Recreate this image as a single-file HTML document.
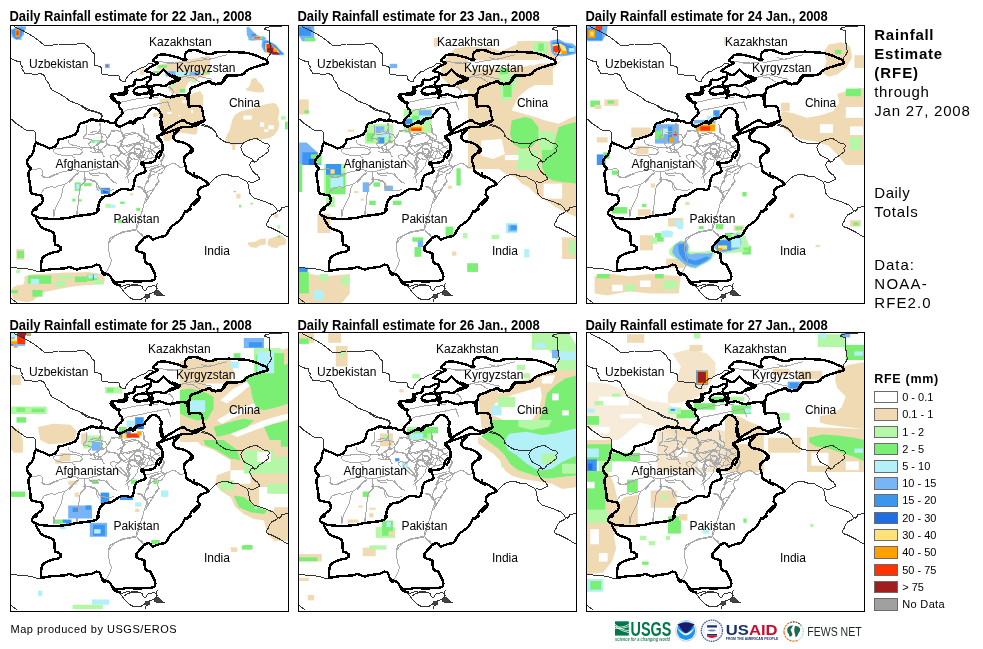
<!DOCTYPE html><html><head><meta charset="utf-8"><style>
html,body{margin:0;padding:0;background:#fff;}
body{width:983px;height:649px;overflow:hidden;position:relative;font-family:"Liberation Sans",Arial,sans-serif;}
.t{position:absolute;white-space:nowrap;color:#000;}
svg text{font-family:"Liberation Sans",Arial,sans-serif;}
</style></head><body>
<svg width="983" height="649" viewBox="0 0 983 649" style="position:absolute;left:0;top:0">
<defs>
<g id="map">
<path d="M133,184 L131.5,188.4 L128.6,194.2 L127.1,198.6 L126.4,204.5 L128.6,207.4 L131.5,210.3 L134.4,213.3 M126.4,205.2 L121.3,206 L115.4,206.7 L109.6,208.9 L103.7,211.1 L100.1,213.3 L98.6,217.7 L98.6,225 L100.1,232.3 L101.5,235.2 L100.1,239.6 L97.9,244 L95.7,248.4 M43.9,184 L43.9,191.3 M67.3,184 L66.6,189.9 M183.1,52.9 L186.8,55.3 L189.6,57.1 M43.2,125.2 L45.9,123.6 L51.3,123.1 L56.7,122.7 L61,122.5 L65.3,122.7 L69.6,123.6 L71.8,125.2 L72.3,127.4 L70.7,129 L66.4,129.5 L62.1,130.1 L56.7,130.6 L51.3,130.1 L47,129 L44.3,127.4 L43.2,125.2 M58.3,115 L58.8,117.7 L61,119.8 L65.3,120.4 L68.5,121.4 L71.8,123.1 L76.1,122.5 L79.3,122 L83.6,122.5 L86.9,124.7 L90,124.7 M76.1,99.9 L76.6,104.2 L76.1,109.6 L73.9,111.7 L73.9,113.9 L78.2,113.9 L81.5,115 L80.4,117.1 L78.2,119.3 L80.4,121.4 L83.6,123.6 L85.8,126.8 L89,127.9 M78.2,109.6 L82.6,109.6 L86.9,108.5 L90,109 M20,144.1 L26.5,144.1 L30.8,143.5 L32.9,146.2 L31.9,150.6 L36.2,152.7 L40.5,151.6 L43.7,149.5 L48,148.4 L52.4,146.8 L56.7,146.2 L59.9,144.6 L63.1,144.1 L66.4,145.2 L69.6,146.2 L73.9,146.8 L78.2,146.2 L81.5,145.2 L86.9,144.1 L90,143.5 M67.5,145.2 L68.5,148.4 L65.3,150.6 L63.1,152.7 L61,156 L58.8,158 M73.9,146.8 L75,150.6 L73.9,154.9 L74.5,158 M79.3,146.8 L80.4,149.5 L84.7,150.6 L89,150 M62.1,130.1 L63.1,132.2 L65.3,133.3 M90.8,97.7 L90.8,102 L89.7,105.3 L90.8,108.5 L91.9,112.8 L90.8,116 L88.6,118.2 L85.4,120.4 L83.2,122.5 L80,123.6 M90.8,108.5 L95.1,109.6 L97.3,112.8 L96.2,116 L97.3,119.3 L94,122.5 L90.8,124.7 L88.6,125.8 L86.5,127.9 M101.6,106.3 L107,105.8 L111.3,106.9 L112.4,109.6 L113.4,112.8 L112.4,116 L111.3,119.3 L112.4,122.5 L114.5,124.7 L116.7,126.8 L118.8,129 L121,127.9 L124.2,129 L127.5,131.1 L129.6,133.3 L130.7,136.5 M112.4,109.6 L116.7,108.5 L121,108 L124.2,107.4 L127.5,108.5 L130.7,110.7 L132.9,113.9 L136.1,116 L139.3,117.1 L142.6,118.2 L144.7,120.4 L146.9,122.5 L150,123.6 M101.6,106.3 L99.4,109.6 L97.3,112.8 M97.3,119.3 L101.6,120.4 L105.9,121.4 L109.1,123.6 L111.3,126.8 L110.2,130.1 L107,132.2 L104.8,134.4 M111.3,119.3 L114.5,120.4 L117.8,121.4 L122.1,120.4 L125.3,119.3 L129.6,118.2 L132.9,118.2 M123.1,122.5 L126.4,123.6 L130.7,124.7 L131.8,127.9 L129.6,130.1 L126.4,130.1 L124.2,129 M132.9,98.8 L133.4,103.1 L133.9,107.4 L137.2,109.6 L138.8,112.8 L137.2,117.1 M118.8,129 L117.8,133.3 L116.7,136.5 L117.8,139.8 L118.8,143 L117.8,146.2 L116.7,149.5 L117.8,152.7 L118.8,158 M104.8,134.4 L108,137.6 L110.2,139.8 L112.4,141.9 L115.6,143 L118.8,143 M80,148.4 L84.3,148.4 L88.6,147.9 L92.9,148.4 L96.2,149.5 L98.3,152.7 L101.6,154.9 L103.7,158 M127.5,131.1 L131.8,132.2 L136.1,133.3 L140.4,133.3 L144.7,132.2 M140.4,120.4 L140.4,123.6 L142.6,125.8 L144.7,127.9 M136.1,143 L140.4,141.9 L144.7,140.9 L149,139.8 M30.8,168.5 L34,164.2 L37.3,162.6 L41.6,161.5 L44.8,162.6 L48,160.9 L52.4,159.9 L55.6,158.8 L58.8,156.6 L61,154.5 L63.1,152.3 L65.3,150.2 L67.5,148 M54.5,159.9 L52.4,164.2 L51.8,169.6 L50.2,173.9 L48,178.2 L45.9,182.5 L44.8,185.8 L44.3,189 L43.7,192.2 M73.9,148 L75,152.3 L75,156.6 L72.9,158.8 L70.7,160.9 L69.6,164.2 L69.1,169.6 L68.5,175 L68,180.4 L67.5,185.8 L66.9,190.6 M31.9,150.2 L34,152.3 L37.3,152.9 L41.6,151.8 L44.8,150.2 L48,149.1 M76.1,154.5 L80.4,154.5 L84.7,155.6 L86.9,158.8 L86.9,163.1 L89,166.3 M127.5,162 L130.7,162 L133.9,165.3 L136.1,168.5 L136.6,171.7 L135,176 L133.4,180.4 L132.9,183.6 L131.8,186.8 L130.2,191.1 L128.5,198.7 L127.5,201.9 L126.4,204.1 L128,206.8 L130.7,208.4 L132.9,210.6 L133.9,212.7 M126.4,204.1 L121,205.2 L115.6,206.2 L111.3,207.3 L107,209.5 L102.7,212.7 L100.5,216 L99.4,218 M136.1,168.5 L138.2,166.3 L141.5,165.3 L144.7,163.1 L145.8,159.9 L148,157.7 L150,156.6 M133.9,165.3 L135,160.9 L136.1,158.8 L138.2,156.6 L139.3,152.3 L141.5,150.2 L144.7,149.1 M80,155.6 L84.3,156.6 L87.6,158.8 L88.6,162 L90.8,164.2 L96.2,165.3 L100.5,165.8 L103.7,164.2 M96.2,148 L98.3,151.2 L100.5,154.5 L103.7,156.6 L107,158.8 M154,128.5 L152.9,132.8 L150.7,136 L151.8,140.4 L148.6,142.5 L145.3,142.5 L142.1,143.6 L139.9,145.8 L141,149 L138.9,152.2 L137.8,155.5 L135.6,158.7 L134.6,163 L135.6,167.3 L137.8,170.6 L136.7,174.9 L135.6,178 M151.8,140.4 L155,141.4 L158.3,140.4 L161.5,138.7 L164.8,138.7 L168,140.4 L170.1,142.5 L172.3,142.5 L174.5,140.4 M155,141.4 L154,144.7 L151.8,147.9 L148.6,149 L147.5,152.2 L148.6,155.5 L147.5,158.7 L145.3,161.9 L143.2,165.2 L141,168.4 L138.9,171.6 L137.8,174.9 M127,161.9 L130.2,161.4 L132.4,163 L133.5,166.2 L135.6,168.4 M127,111.2 L130.2,110.2 L133.5,112.3 L136.7,114.5 L138.9,116.6 L143.2,117.7 L146.4,116.6 L149.7,115.6 M127,118.8 L130.2,119.9 L133.5,122 L137.8,123.1 L141,124.2 L144.3,126.3 L146.4,128.5 M132.4,122 L133.5,126.3 L132.4,129.6 L129.2,131.7 L127,132.8 M137.8,123.1 L139.9,127.4 L137.8,130.7 L136.7,133.9 L133.5,136 L131.3,137.1 M157,38.6 L162.5,38.6 L166.2,37.7 L170.9,37.2 L175.5,36.8 L179.2,37.2 L182.9,36.8 L186.6,35.9 L190.3,35.4 L194,34.9 L197.7,34.5 L201.4,34 L205.1,33.1 L208.8,31.7 L212.5,30.8 L217,29.8 M171.8,52 L175.5,51.6 L179.2,52.5 L182.9,52 L184.7,53.9 L187.5,55.7 L189.4,57.6 M158.8,61.3 L160.7,63.1 L162.5,65 L163.5,66.8 L162.5,68.7 M89.2,98 L90,101.1 L90.8,103.4 L90,105.7 L91.6,108.8 L92.3,111.9 L91.6,114.2 L92.3,116.5 L90,118 L87.7,119.6 L84.6,121.1 L81.5,122.7 L80,123.4 M80,108 L83.9,106.5 L88.5,107.2 L90,105.7 M90,118 L93.1,117.3 L95.4,115.7 L97.7,113.4 L99.3,111.1 L100.8,108 L101.6,105.7 L104.7,105.3 L108.5,105.7 L110.8,106.5 L112.4,108 L113.9,110.3 L115.4,112.6 L113.9,113.4 L112.4,116.5 L111.6,118.8 L110.8,121.1 L109.3,123.4 L108.5,125 L110,126.5 L110.8,128.8 L109.3,130.4 L106.2,130.4 L103.1,129.6 L100.8,130.4 L100,131.9 L101.6,133.4 L103.1,135 M97.7,120.3 L102.3,120.3 L106.2,121.1 L109.3,123.4 M87.7,119.6 L88.5,122.7 L90,125.7 L92.3,128 L93.1,130.4 L94.6,131.9 M110.8,121.1 L113.9,121.1 L117,120.3 L120.1,119.6 L123.1,118.8 L126.2,118 L130,117.3 M111.6,128 L113.9,129.6 L116.2,130.4 L118.5,129.6 L120.1,128 L123.1,127.3 L126.2,128.8 L127,131.9 L129.3,132.7 M120.1,128 L119.3,130.4 L120.1,132.7 L121.6,134.2 L120.1,136.5 L118.5,139.6 L120.1,142.7 L118.5,145.8 M123.1,121.1 L124.7,123.4 L127.8,124.2 L130,123.4 M109.3,135 L112.4,138.1 L115.4,141.1 L117,144.2 M80,126.5 L83.1,127.3 L85.4,128 L87.7,127.3 L90.8,127.3 L93.1,128.8 M148.2,36.5 L155.9,37.3 L163.6,38 L168.3,38.8 M169.8,52.7 L176,51.1 L182.1,49.6 L188.3,51.1 L194.4,52.7 L202,54.2 M157.5,61.9 L160.6,63.5 L163.6,66.6 L162.1,69.6 M191.4,32.7 L197.5,34.2 L202,33.4 M111.2,77.3 L117.4,75.8 L123.6,74.3 L129.7,73.5 L135.9,72.7 L142.1,71.9 L148.2,72.7 M109.7,88.1 L117.4,85 L125.1,83.5 L132.8,82 L139,80.4 L145.1,79.6 L151.3,78.1 L157.5,77.3 M157.5,75.8 L159,80.4 L160.6,85 M110.1,103 L110.9,106.1 L112.4,108.4 L114.7,110.7 L113.9,113 L111.6,115.3 L110.9,118.4 L110.1,121.5 L108.5,123 L107,123.8 M114.7,110.7 L118.6,109.9 L122.4,109.2 L126.3,108.4 L129.3,109.2 L130.9,111.5 L131.7,113.8 L133.2,115.3 L134.7,116.1 L137,115.3 L138.6,113 L138.6,110.7 L136.3,109.9 L134.7,108.4 L134,106.1 L134,103 M131.7,113.8 L130.1,116.1 L128.6,118.4 L126.3,119.9 L123.9,121.5 L122.4,123 L120.9,124.6 L119.3,126.1 L117,127.7 L114.7,128.4 L111.6,127.7 L109.3,126.1 L107.8,125.3 M123.9,121.5 L125.5,123.8 L127,124.6 L129.3,123.8 L130.9,125.3 L130.1,127.7 L128.6,129.2 L126.3,128.4 L124.7,126.1 L123.9,123.8 M119.3,126.1 L120.1,129.2 L119.3,131.5 L118.6,133.8 L118.6,136.9 L117.8,140 L116.2,142.3 L114.7,143.8 M130.9,125.3 L132.4,126.9 L132.4,130 L130.9,132.3 L128.6,133.8 L126.3,134.6 L123.9,133.8 L121.6,134.6 L119.3,136.9 M134.7,116.1 L133.2,119.9 L132.4,123 L134,124.6 L136.3,126.1 L137.8,126.9 L139.4,126.1 L140.9,126.9 L142.4,129.2 L144,130.7 M136.3,126.1 L135.5,128.4 L134,130.7 L131.7,133 L130.1,135.4 M140.9,126.9 L142.4,124.6 L144,123 L145.5,122.3 L147.8,121.5 L150.1,120.7 M139.4,119.2 L140.9,118.4 L143.2,119.2 L144.8,118.4 M128.6,134.6 L127.8,137.7 L127,140.8 L125.5,143.1 L123.9,145.4 L122.4,146.9 L119.3,149.2 L117.8,150.8 L114.7,153 M116.2,142.3 L117,144.6 L118.6,146.1 L119.3,149.2 M111.6,115.3 L109.3,116.9 L107,117.6 M150.1,127.7 L153.2,128.4 L154.8,130.7 L153.2,133.8 L151.7,136.1 L150.9,139.2 L152.5,141.5 L154.8,142.3 L157,141.5 M139.4,146.1 L142.4,144.6 L145.5,143.1 L148.6,141.5 L151.7,140.8 M137.8,153 L139.4,149.2 L140.9,146.9 L143.2,146.1 L145.5,147.7 L147.8,146.1 L150.1,144.6 L153.2,143.1 L154.8,141.5" fill="none" stroke="#a9a9a9" stroke-width="1" stroke-linejoin="round" shape-rendering="crispEdges"/>
<path d="M3.7,1.2 L14.6,6.6 L23.4,11.7 L29.3,16.1 L35.1,20.9 L41,20.5 L48.3,19 L58.6,19.3 L67.3,19 L71.7,18.3 L74.7,19 L80.5,23.4 L82,27.1 L84.2,28.5 L84.6,34.4 L84.2,40.3 L87.8,41 L91.5,42.4 L91.9,48.3 L92.2,49.8 L95,49.8 L102,50.3 L108.5,50.3 L110.1,51.9 L109.7,54.2 L111.2,55.7 L113.9,56.9 L115.9,56.5 L115.5,54.6 L117.4,51.9 L120.5,48.8 L122.8,46.9 L125.9,46.1 L128.2,44.2 L131.3,43 L134.4,41.9 L136.7,40.3 L138.6,38.4 L140.5,38.8 L142.8,38 M1.2,33.7 L5.9,35.9 L10.2,36.6 L11,40.3 L12.4,41.7 L11.7,43.9 L13.9,46.8 L14.6,48.3 L22,49 L26.3,49.8 L30,48.3 L34.4,50.5 L35.9,54.9 L38.8,58.6 L40.3,62.9 L42.4,65.1 L48.3,68.1 L55.6,72.5 L60,76.1 L65.9,78.3 L71.7,80.5 L76.1,83.4 L82,85.6 L87.8,87.1 L91.5,88.6 L92.2,90.8 L91.5,93.7 M70,80.6 L73.7,82.9 L77.4,85.2 L81.1,86.1 L83.9,86.6 L86.6,87.5 L89.4,88.4 L91.7,89.8 L91.3,91.7 L90.8,94 L91.3,94.9 M1.5,94.2 L4.4,97.1 L7.3,99.3 L11,101.5 L14.6,104.4 L17.6,105.9 L23.4,105.5 L24.9,106.6 L25.6,111 L25.6,115.4 L26.3,117.6 M257.9,35.9 L257.9,32.2 L260.1,29.3 L261.6,26.3 L260.1,23.4 L260.1,19 L259.4,14.6 L259.4,10.2 L260.1,5.9 L257.9,5.1 L254.3,4.4 L255.7,2.9 L260.1,1.8 L264.5,1.5 L268.9,1.2 L273.3,0.9 L279,0.6 M191.9,99.2 L199.4,101.4 L203.7,104.6 L205.9,107.9 L208,112.2 L212.3,115.4 L216.7,117.6 L225.3,118.6 L231.8,118.2 M232.3,119.1 L233.8,117.6 L238.2,115.4 L242.6,114 L246.9,113.7 L249.9,115.4 L254.3,118.3 L258.7,119.1 L259.4,121.3 L257.9,123.5 L258.7,126.4 L255.7,128.6 L252.8,130.8 L249.1,133 L246.9,135.9 L244.7,137.4 L242.6,135.2 M232.3,119.1 L230.8,122.7 L232.3,127.1 L234.5,130.1 L238.2,132.3 L241.8,133.7 L243.3,135.9 L240.4,137.4 L239.6,140.3 L241.1,143.2 L242.6,146.2 L244,147.6 L245.5,149.1 L247.7,149.8 L248.4,152 L249.9,153.5 L248.4,154.9 L245.5,156.4 L242.6,157.9 L240.4,157.1 L238.2,156.4 M198.6,159.3 L201.6,156.4 L204.5,153.5 L207.4,151.3 L211.8,149.8 L214.7,149.1 L217.7,149.8 L220.6,150.6 L223.5,152 L227.9,151.3 L230.8,153.5 L233.8,154.9 L236.7,156.4 L238.2,159.3 L238.9,163.7 L239.6,168.1 L241.8,171 L244,173.2 L246.9,174 L251.3,175.4 L255.7,176.9 L258.7,178.4 L263,179.8 L266,182.8 L267.4,185.7 L268.2,187 M268.9,187 L271.8,182.8 L274.8,182 L279,181.3 M271.8,184 L268.9,185.5 L266,187.7 L261.6,189.9 L259.4,192.8 L258.7,195.7 L256.5,198.6 L257.2,201.6 L261.6,203 L266,205.2 L270.4,207.4 L274.8,210.3 L277.7,211.8 L279,212.5 M0,241.8 L4.4,242.6 L8.8,243.3 L14.6,243.3 L17.6,244 L22,244.7 L26.3,246.2 L29.3,246.9 L30.7,246.2 M0,271.8 L2.9,274.8 L5.9,277 L7.3,277.7 M190.5,99.8 L193.2,100.7 L196.9,101.7 L199.7,102.6 L202.5,104.4 L204.3,106.3 L206.2,108.1 L207,111.8 M109.3,260.7 L111.2,263.1 L113,265.6 L114.8,268 L117.3,270.5 L120.3,272.9 L122.8,274.1 L126.4,274.7 L130.1,274.7 L132.5,273.5 L135,271.7 L136.8,269.9 L139.8,268.6 L143.5,267.4 L145.9,266.2 L147.2,263.8 L145.9,261.3 L147.2,258.9 L148.4,257.6 M114.2,263.8 L117.3,261.9 L120.3,260.7 L123.4,260.1 L126.4,260.1 L129.5,260.7 L131.9,261.3 L133.1,263.8 L135,266.2 L136.2,265 L137.4,262.5 L139.8,261.3 L143.5,260.7 L145.9,261.3 M111.2,261.3 L114.2,260.7 L117.9,259.5 L120.3,259 L124,259.2 L127.6,259.8 M144.7,266.2 L148.4,265 L152.1,269.9 L154.5,270.5 L144.7,269.9 L144.7,266.2 M135,269.9 L137.4,269.2 L139.8,269.9 L139.2,272.3 L136.8,273.5 L135,272.3 L135,269.9 M136.2,273.5 L135.6,275.3 L135,277.2" fill="none" stroke="#333" stroke-width="1" stroke-linejoin="round" shape-rendering="crispEdges"/>
<path d="M144.7,266.2 L148.4,265.0 L152.1,269.9 L154.5,270.5 L144.7,269.9Z M135.0,269.9 L137.4,269.2 L139.8,269.9 L139.2,272.3 L136.8,273.5 L135.0,272.3Z" fill="#444"/><!--INDUSFILL-->
<path d="M26.3,117.6 L29.3,119.1 L33.7,120.5 L36.6,122 L39.5,123.5 L42.4,122.7 L45.4,121.3 L47.6,118.3 L48.3,114.7 L52,114 L56.4,112.5 L61.5,111 L65.1,109.6 L67.3,106.6 L68.1,103 L69.5,99.3 L71.7,97.9 L76.1,97.1 L79.8,94.9 L82,94.2 L86.4,95.7 L90.8,95.7 L95,96.4 M80.2,95.4 L81.6,94.4 L83.4,94.9 L85.7,94.9 L88.5,95.8 L92.2,95.4 L94,95.8 L95.9,95.8 L97.7,96.3 L99.6,97.7 L102.4,98.1 L105.6,97.2 L106.5,100 L108.8,101.8 L111.6,100.9 L114.4,99.5 L117.1,98.1 L119.9,97.2 L122.7,98.6 L124.5,98.1 L125.5,95.8 L127.3,94.4 L130,94 M105.6,97.2 L106.5,94.9 L108.4,92.6 L110.7,90.7 L112.5,88 L112.1,85.2 L109.8,83.3 L108.8,80.6 L109.8,77.8 L107,76.9 L103.7,75.9 L101.4,73.6 L100.5,71.3 L101.9,69.5 L105.1,69 L109.8,68.5 L113.5,67.6 L115.3,65.8 L116.2,63 M26.3,117.6 L24.9,119.8 L24.2,122.7 L23.4,126.4 L22,130.1 L19.8,131.5 L17.6,134.4 L16.8,137.4 L18.3,141 L21.2,143.2 L19,146.2 L18.3,149.1 L19,153.5 L19.8,157.9 L20.5,162.3 L20.5,166.7 L22,168.8 L26.3,169.6 L30.7,170.3 L32.2,171.8 L32.9,175.4 L31.5,178.4 L28.5,180.6 L24.9,183.5 L22,187 M27.1,184 L23.4,185.5 L21.7,187.7 L22.7,189.9 L25.6,191.3 L29.3,192.8 L35.1,193.5 L41,194 L46.8,194 L52.7,193.5 L58.6,192.8 L64.4,191.3 L70.3,190.6 L76.1,189.9 L82,189.1 L86.4,187.7 L87.8,185.5 L87.5,184 M25.6,191.3 L26.3,194.2 L28.5,197.9 L30.7,201.6 L33.7,203.8 L38.1,205.2 L41.7,206.7 L43.9,208.2 L44.6,211.8 L44.6,216.2 L45.4,219.9 L48.3,220.6 L50.5,222.1 L50.5,225 L48.3,226.4 L43.9,227.2 L39.5,228.6 L35.1,230.8 L32.2,233 L31.5,236.7 L30.7,241.1 L30.7,245.5 L33.7,245.5 L38.1,244.7 L43.9,244 L49.8,243.7 L55.6,243.3 L59.3,241.8 L61.5,242.6 L64.4,244 L67.3,244.7 L70.3,243.3 L76.1,242.6 L82,241.8 L86.4,239.6 L89.3,240.4 L90.8,242.6 L91.5,245.5 L92.2,248.4 L93.7,249.9 L95,249.9 M92,246.9 L94.9,248.4 L99.3,249.9 L100.8,252.1 L102.2,255 L105.2,257.2 L109.6,257.2 L114,256.5 L118.3,255.7 L124.2,256.5 L130.1,256.5 L135.9,255.7 L141.8,255.7 L144.7,254.3 L145.4,251.3 L144.7,248.4 L143.2,245.5 L141.8,242.6 L140.3,239.6 L137.4,238.9 L135.2,236.7 L134.4,232.3 L134.4,227.9 L130.1,227.2 L126.4,225.7 L126.4,222.1 L128.6,219.1 L131.5,216.2 L133.7,213.3 L135.9,211.8 L138.8,211.1 L141,212.5 L142.5,214.7 L146.2,213.3 L150.6,211.8 L154.9,211.1 L157.1,208.9 L159.3,204.5 L162.3,200.8 L166.7,197.9 L171,194.2 L173.2,189.9 L175.4,186.2 L178.4,185.5 L181.3,184 M102.2,255 L103.7,257.9 L106.6,259.4 L109.6,260.1 M150.6,92 L151.3,96.4 L152,100.8 L153.5,104.4 L154.9,105.9 L152,108.1 L148.4,111 L146.9,113.2 L149.8,115.4 L152,118.3 L152.7,121.3 L152,124.9 L149.1,127.1 L146.9,129.3 L146.2,133 L144.7,135.9 L141.8,137.4 L135.9,138.1 L131.5,137.4 L130.8,138.8 L133.7,140.3 L134.4,142.5 L135.9,146.2 L133.7,147.6 L129.3,149.1 L126.4,150.6 L124.9,153.5 L124.2,157.1 L123.5,160.8 L122.7,163.7 L120.5,165.2 L117.6,164.5 L114,163.7 L110.3,164.5 L106.6,166.7 L103.7,168.8 L100.8,170.3 L96.4,171 L93.5,171.8 L92,172.5 M187,174 L184.2,176.9 L181.3,179.8 L179.8,182.8 L178.4,185.7 L176.2,187 M184,150.6 L188.4,152 L191.3,153.5 L195.7,156.4 L198.6,159.3 L195.7,160.8 L191.3,162.3 L188.4,165.2 L187.7,169.6 L189.9,172.5 L188.4,175.4 L185.5,178.4 L184,179.8 M163.7,108.1 L163.7,114 L166.7,116.2 L171,116.9 L175.4,118.3 L179.8,120.5 L181.3,123.5 L179.8,127.1 L176.9,130.1 L174.7,132.3 L174,135.9 L175.4,140.3 L176.2,144.7 L176.9,146.9 L179.8,148.4 L182.8,150.6 L185.7,152 L187,152.7 M184,150.6 L184,147.6 M120,96.4 L122.8,96.9 L125.1,95 L127.4,93.7 L130.2,92.7 L132.9,92.7 L134.8,91.8 L135.3,90 L137.1,88.1 L139.4,84.9 L142.2,83 L145,83 L147.7,84.4 L149.6,86.3 L150.5,88.6 L151.4,89.5 L151.4,92.7 L150.5,95.5 L150.7,100.7 L151.2,103.5 L152.5,105.4 L154.4,105.4 L156.2,104.4 L159,102.6 L161.8,101.2 L164.6,99.3 L167.3,97.5 L170.1,96.1 L172.9,95.2 L174.7,95.7 L176.6,97.5 L179.4,98.4 L181.2,99.3 L184,98.9 L187.7,97.5 L190.5,96.6 L193.2,96.1 L194.6,95.2 L194.1,92.9 L193.2,90.6 L192.8,87.8 L192.3,85 L191.4,82.2 L188.6,80.9 L184,81.3 L179.4,80.9 L178.9,78.5 L178,75.8 L177.5,73 M123.7,66.8 L125.5,69.2 L129.2,69.6 L132.9,68.7 L136.6,67.8 L139.4,67.3 L140.3,68.7 L142.2,70.5 L145.9,70.1 L149.6,69.2 L153.3,70.5 L157,71.9 L160.7,72.4 L164.4,71.5 L168.1,70.5 L171.8,70.1 L175.5,70.5 L177.3,72.4 L177.8,76.1 L178.2,78.9 L179.2,81.6 L180,82.1 M182,25.3 L178.2,25.7 L176.3,27.2 L175.1,29.2 L174.8,31.5 L175.1,33.4 L176.3,34.6 L174,34.9 L171.3,33.8 L168.2,32.6 L164.4,31.5 L161.3,30.7 L157.4,29.9 L153.6,29.5 L150.5,29.5 L147.8,30.3 L146.3,32.2 L144.3,33.8 L143.2,35.7 L144.7,36.9 L147,37.3 L148.2,38 L146.3,39.2 L144.3,39.9 L142,41.1 L139.7,42.6 L137.4,44.2 L135.1,45.7 L136.2,46.5 L138.2,46.9 L140.5,47.3 L142,48.4 L144.3,49.6 L147.4,50 L149.7,48.4 L152,45.7 L153.6,44.6 L155.1,46.1 L157.4,48.4 L160.5,50.7 L163.6,52.3 L166.7,53.4 L169.8,54.2 L168.2,55.4 L164.4,55.7 L161.3,56.5 L159,58.1 L156.7,60 L155.1,61.1 L152,60.8 L148.9,60 L145.9,60 L142.8,60.8 L141.2,61.5 M142,48.4 L141.2,50 L140.9,52.3 L140.5,54.6 L138.9,56.1 L137.4,57.3 L136.6,59.2 L137.4,60.8 L139.7,61.5 L141.2,61.9 L142,63.1 L142,65 L142.8,66.9 L141.2,69.2 L140.5,73 M140.1,51.9 L138.2,51.9 L135.9,52.7 L133.6,54.2 L131.3,55 L129,55.3 L126.7,54.6 L125.1,55.3 L124.3,57.3 L124.3,59.6 L122.8,60.7 L120.5,61.1 L117.4,61.9 L114.7,62.3 L114.7,63.4 L117,64.2 L117.4,65.8 L117,67.3 L115.9,68.8 L113.6,69.6 L109.7,69.6 L106.6,69.2 L103.5,68.8 L102.8,70 L103.2,72.3 L104.7,74.2 L105.9,76.2 L106.6,78 M124.3,65 L125.9,63.1 L129,61.9 L132.8,61.5 L136.7,61.9 L139,63.1 L139.8,65 L139.4,67.3 L137.4,68.4 L132.8,68.8 L128.2,68.8 L125.1,68.1 L124,66.5 L124.3,65 M184,24.9 L188.4,25.6 L191.3,27.1 L195.7,28.5 L200.1,29.3 L203,28.5 L204.5,27.5 L208.9,27.1 L213.3,27.1 L219.1,26.6 L225,27.1 L230.8,27.5 L236.7,27.8 L242.6,29.3 L246.9,30.7 L251.3,32.9 L255.7,34.4 L257.2,35.9 L257.9,38.4 L256.5,39.2 L252.8,39.5 L248.4,41 L244,42.4 L239.6,43.9 L236,46.1 L233.8,49 L230.8,49.8 L226.4,50.5 L222.1,50.5 L219.1,50.5 L216.2,52 L214.7,54.9 L213.3,56.4 L211.1,58.6 L208.2,59.3 L204.5,58.6 L201.6,57.8 L200.1,56.4 L197.9,57.1 L194.2,57.8 L191.3,58.6 L188.4,60 L185.5,61.5 L184,62.2 M220,50.2 L216.4,50.6 L214.5,52.9 L213.2,55.7 L211.8,58 L208.1,58.5 L205.3,59.4 L202.5,59 L200.7,57.1 L199.8,55.7 L197.9,56.6 L196.1,57.6 L193.3,58 L191.4,59 L189.6,59.9 L186.8,60.8 L184,61.7 L181.7,62.7 L180.3,64 L179.9,66.8 L179.4,68.7 L178,69.6 L174.8,70 L171.1,70 L167.4,70.5 L163.7,71 L160,71.9 M179.4,68.7 L178.5,70.5 L178.5,74.2 L179,77 M160,51.1 L162.8,50.6 L165.5,51.6 L167.4,52.5 L169.2,52.9 L170.2,53.9 L168.3,54.8 L165.5,56.2 L162.8,57.6 L160,58.5 M194.6,95.7 L191.4,97.5 L187.7,99.8 L184,101.2 L180.3,101.8 L176.6,101.8 L172.9,102.2 L170.1,102.8 L167.3,103.7 L164.6,104.9 L161.8,106.1 L159,107 L156.2,107.9 L153.5,108.9 L150.7,110 L148.8,110.9 L147,111.6 M170.1,103 L167.3,106.3 L164.6,109.1 L163.6,110.9 L163.6,113.7 L165.5,115.5 L169.2,116.5 L172,117.4 L174.7,118.3 L177.5,119.2 L178.9,121.1 L180.3,122.5 L182.6,123.8 L183.1,125.7 L181.2,127.5 L178.4,128.5 L175.7,130.3 L173.8,133 M147,110.9 L148.8,112.8 L150.7,114.6 L152.1,117.4 L152.5,121.1 L152.5,124.8 L151.2,128.5 L149.8,131.2 L148.8,133 M93,172.5 L90.5,175 L89,178.2 L88.2,182 L88.5,185.5" fill="none" stroke="#000" stroke-width="2.4" stroke-linejoin="round" stroke-linecap="round" shape-rendering="crispEdges"/>
</g>

<clipPath id="c0"><rect x="1" y="1" width="277" height="277"/></clipPath>
<clipPath id="c1"><rect x="1" y="1" width="277" height="277"/></clipPath>
<clipPath id="c2"><rect x="1" y="1" width="277" height="277"/></clipPath>
<clipPath id="c3"><rect x="1" y="1" width="277" height="278"/></clipPath>
<clipPath id="c4"><rect x="1" y="1" width="277" height="278"/></clipPath>
<clipPath id="c5"><rect x="1" y="1" width="277" height="278"/></clipPath>
</defs>
<g transform="translate(10,25)">
<g clip-path="url(#c0)">
<path d="M1.1,4.3 L4.3,3.2 L6.5,1.6 L10.8,1.3 L16.2,1.6 L15.6,4.3 L14.0,6.5 L14.0,9.7 L11.9,11.9 L10.8,14.6 L6.5,15.1 L4.3,14.0 L2.2,11.9 L1.1,8.6Z" fill="#78b4f8"/><path d="M1.6,5.4 L4.9,4.3 L7.6,2.7 L11.9,2.7 L13.5,4.9 L12.4,8.1 L11.3,10.8 L9.7,13.5 L6.5,14.0 L4.3,12.4 L2.7,10.2Z" fill="#3c96f0"/><path d="M5.4,4.3 L9.7,4.3 L9.9,11.9 L5.4,11.9Z" fill="#ffa000"/><path d="M6.5,5.9 L8.6,5.9 L8.6,10.2 L6.5,10.2Z" fill="#ff3200"/><path d="M1.1,11.3 L2.4,11.3 L2.4,12.5 L1.1,12.5Z" fill="#7aef74"/><path d="M10.2,13.8 L11.9,13.8 L11.9,15.1 L10.2,15.1Z" fill="#7aef74"/><path d="M236.6,2.3 L238.9,1.8 L240.7,3.7 L242.1,5.5 L244.0,7.4 L245.8,9.2 L249.5,11.1 L254.1,11.6 L256.0,12.9 L255.5,14.8 L251.4,15.3 L246.7,15.3 L242.1,15.7 L239.8,15.3 L238.4,12.9 L237.0,10.2 L236.6,6.5Z" fill="#78b4f8"/><path d="M241.7,8.8 L245.8,8.8 L246.0,12.0 L241.7,12.0Z" fill="#3c96f0"/><path d="M242.6,11.6 L251.4,11.6 L251.5,14.1 L242.6,14.1Z" fill="#ffe27a"/><path d="M243.5,12.2 L250.4,12.2 L250.4,13.5 L243.5,13.5Z" fill="#ff3200"/><path d="M238.0,13.7 L239.8,13.7 L239.8,15.3 L238.0,15.3Z" fill="#7aef74"/><path d="M251.8,11.6 L253.2,11.6 L253.2,12.8 L251.8,12.8Z" fill="#7aef74"/><path d="M252.3,14.8 L256.9,14.8 L260.1,16.5 L265.2,19.6 L267.5,21.4 L269.4,24.2 L272.2,26.8 L274.5,28.7 L273.7,30.3 L268.9,30.3 L263.4,30.0 L259.7,28.8 L256.4,27.6 L254.6,27.0 L252.7,24.2 L251.4,21.3 L251.8,17.6Z" fill="#78b4f8"/><path d="M253.7,16.2 L257.8,15.9 L261.5,18.0 L265.7,20.8 L268.0,23.6 L270.8,26.3 L273.1,28.8 L269.4,29.6 L263.4,29.4 L259.7,28.2 L256.0,27.3 L254.1,24.0 L253.2,20.3Z" fill="#3c96f0"/><path d="M255.5,18.0 L260.6,18.0 L263.8,22.2 L267.1,24.2 L269.4,27.7 L265.2,29.1 L259.7,28.2 L256.0,27.7 L255.1,23.1Z" fill="#ffe27a"/><path d="M256.4,19.0 L261.1,19.0 L263.4,22.7 L265.7,24.8 L268.0,27.7 L263.4,28.7 L259.7,27.7 L256.7,26.8Z" fill="#ff3200"/><path d="M257.1,23.1 L262.5,23.1 L263.4,26.3 L268.0,27.6 L269.8,29.4 L263.4,29.4 L259.7,27.7 L257.1,27.0Z" fill="#a01e1e"/><path d="M263.4,23.9 L267.1,23.9 L267.1,26.8 L263.4,26.8Z" fill="#ffa000"/><path d="M241.7,53.7 L245.9,53.0 L248.6,57.2 L251.4,59.3 L252.8,62.0 L254.2,64.8 L254.2,66.9 L250.0,67.6 L244.5,66.9 L240.3,66.2 L236.8,65.5 L236.1,63.4 L238.9,62.0 L240.3,59.3 L241.0,55.8Z" fill="#f0dab4"/><path d="M225.1,89.8 L230.6,86.3 L236.1,84.9 L241.7,83.5 L247.2,82.1 L252.8,80.1 L258.3,78.7 L263.9,78.0 L266.7,79.4 L268.7,82.8 L269.4,86.3 L268.7,90.5 L268.0,94.6 L269.4,98.8 L268.7,103.0 L266.7,107.1 L263.9,110.6 L259.7,112.7 L254.2,114.0 L250.0,114.7 L244.5,114.0 L238.9,115.4 L233.4,118.2 L227.8,119.6 L222.3,120.3 L216.7,118.2 L215.3,114.0 L216.7,109.9 L219.5,105.7 L220.9,100.2 L222.3,94.6Z" fill="#f0dab4"/><path d="M233.4,90.5 L241.7,90.5 L241.7,94.6 L233.4,94.6Z" fill="#ffffff"/><path d="M250.0,97.4 L254.2,97.4 L254.2,101.6 L250.0,101.6Z" fill="#ffffff"/><path d="M258.3,100.2 L263.9,100.2 L263.9,104.3 L258.3,104.3Z" fill="#ffffff"/><path d="M254.2,104.3 L258.3,104.3 L258.3,107.1 L254.2,107.1Z" fill="#ffffff"/><path d="M270.8,91.2 L275.7,91.2 L275.7,94.6 L270.8,94.6Z" fill="#b4f7a6"/><path d="M275.0,96.7 L277.8,96.7 L277.8,104.3 L275.0,104.3Z" fill="#7aef74"/><path d="M189.0,69.7 L193.2,69.7 L193.2,76.6 L189.0,76.6Z" fill="#f0dab4"/><path d="M222.3,118.2 L225.3,118.2 L225.3,125.0 L222.3,125.0Z" fill="#f0dab4"/><path d="M146.2,41.2 L151.6,39.0 L158.0,37.9 L164.5,36.9 L171.0,35.8 L177.5,34.7 L183.9,33.6 L190.4,32.6 L194.7,31.5 L200.0,30.4 L200.0,49.8 L194.7,50.9 L190.4,53.0 L186.1,54.1 L181.8,55.7 L178.5,57.4 L176.4,60.6 L174.2,66.0 L171.0,68.1 L166.7,69.2 L162.4,68.1 L159.1,66.0 L158.0,61.7 L160.2,58.4 L164.5,56.3 L168.8,54.1 L171.0,52.0 L166.7,50.3 L162.4,49.3 L157.0,48.2 L151.6,46.0 L147.3,44.4Z" fill="#f0dab4"/><path d="M148.3,40.1 L157.0,40.1 L157.0,42.8 L148.3,42.8Z" fill="#7aef74"/><path d="M142.9,46.0 L150.5,46.0 L150.5,48.2 L142.9,48.2Z" fill="#7aef74"/><path d="M161.3,59.5 L165.6,59.5 L165.6,62.8 L161.3,62.8Z" fill="#b4f7a6"/><path d="M169.9,63.8 L175.3,63.8 L175.3,67.6 L169.9,67.6Z" fill="#7aef74"/><path d="M181.8,55.2 L186.1,55.2 L186.1,57.4 L181.8,57.4Z" fill="#b4f7a6"/><path d="M194.7,46.6 L200.0,46.6 L200.0,48.7 L194.7,48.7Z" fill="#7aef74"/><path d="M154.8,46.6 L165.6,46.0 L165.6,50.9 L155.9,51.4Z" fill="#78b4f8"/><path d="M165.6,46.6 L180.7,47.1 L180.7,52.0 L165.6,51.7Z" fill="#b4f0f8"/><path d="M179.6,47.1 L190.4,46.6 L190.4,50.3 L179.6,50.7Z" fill="#78b4f8"/><path d="M149.4,74.6 L157.0,73.5 L162.4,72.5 L167.8,70.3 L175.3,69.8 L179.6,70.3 L183.9,68.1 L190.4,66.0 L192.6,71.4 L192.0,78.9 L191.5,85.4 L190.4,91.9 L188.2,95.0 L151.6,95.0 L150.5,89.7 L151.6,85.4 L149.4,81.1Z" fill="#f0dab4"/><path d="M130.0,44.4 L134.3,44.4 L134.3,49.8 L130.0,49.8Z" fill="#f0dab4"/><path d="M149.7,77.2 L157.3,76.6 L161.6,75.0 L192.9,75.0 L192.9,81.5 L193.9,87.9 L193.9,94.4 L190.7,96.6 L187.5,98.7 L187.5,105.2 L186.4,109.5 L182.1,109.5 L176.7,108.4 L171.3,107.4 L168.0,108.4 L165.9,110.6 L161.6,113.8 L159.4,116.0 L154.0,116.0 L152.9,110.6 L154.0,105.2 L155.1,102.0 L151.9,99.8 L149.7,94.4 L148.6,90.1 L147.6,86.9 L149.7,81.5Z" fill="#f0dab4"/><path d="M143.2,87.9 L147.6,87.9 L147.6,92.3 L143.2,92.3Z" fill="#f0dab4"/><path d="M172.4,75.0 L175.6,75.0 L175.6,78.2 L172.4,78.2Z" fill="#fff"/><path d="M181.0,84.7 L183.1,84.7 L183.1,87.9 L181.0,87.9Z" fill="#fff"/><path d="M168.0,90.1 L170.2,90.1 L170.2,91.2 L168.0,91.2Z" fill="#fff"/><path d="M157.3,86.9 L161.6,86.9 L161.6,89.0 L157.3,89.0Z" fill="#fff"/><path d="M6.2,224.1 L14.5,224.1 L14.5,234.7 L6.2,234.7Z" fill="#f0dab4"/><path d="M7.3,225.8 L14.0,225.8 L14.0,233.1 L7.3,233.1Z" fill="#7aef74"/><path d="M14.5,251.5 L22.4,249.3 L33.6,248.7 L44.8,248.2 L56.0,247.6 L67.1,247.6 L78.3,247.0 L87.3,248.2 L94.0,249.3 L95.1,256.0 L89.5,259.4 L78.3,259.9 L67.1,261.0 L56.0,262.7 L44.8,265.0 L33.6,267.2 L28.0,271.7 L22.4,276.1 L16.8,277.3 L11.2,276.1 L4.5,275.0 L2.2,271.7 L2.2,262.7 L6.7,260.5 L13.4,259.4 L14.5,256.0Z" fill="#f0dab4"/><path d="M17.9,250.4 L41.4,250.4 L41.4,258.8 L17.9,258.8Z" fill="#7aef74"/><path d="M22.4,265.0 L32.5,265.0 L32.5,271.7 L22.4,271.7Z" fill="#7aef74"/><path d="M64.9,251.5 L77.2,251.5 L77.2,257.1 L64.9,257.1Z" fill="#7aef74"/><path d="M77.2,249.3 L87.3,249.3 L87.3,256.0 L77.2,256.0Z" fill="#7aef74"/><path d="M1.1,265.0 L7.8,265.0 L7.8,268.3 L1.1,268.3Z" fill="#7aef74"/><path d="M44.8,256.0 L56.0,256.0 L56.0,261.6 L44.8,261.6Z" fill="#b4f7a6"/><path d="M83.9,254.9 L94.0,254.9 L94.0,259.4 L83.9,259.4Z" fill="#b4f7a6"/><path d="M47.0,250.4 L62.7,250.4 L62.7,253.8 L47.0,253.8Z" fill="#b4f7a6"/><path d="M20.7,253.8 L29.1,253.8 L29.1,259.4 L20.7,259.4Z" fill="#b4f0f8"/><path d="M78.3,249.8 L87.3,249.8 L87.3,253.2 L78.3,253.2Z" fill="#b4f0f8"/><path d="M82.8,249.8 L83.9,249.8 L83.9,254.9 L82.8,254.9Z" fill="#3c96f0"/><path d="M6.2,244.8 L10.1,244.8 L10.1,248.2 L6.2,248.2Z" fill="#b4f7a6"/><path d="M238.0,217.4 L244.9,216.7 L250.3,214.0 L255.8,213.3 L255.8,219.5 L249.0,220.8 L246.2,222.9 L240.7,222.2 L238.0,219.5Z" fill="#f0dab4"/><path d="M258.6,214.0 L266.8,211.2 L272.3,210.5 L276.4,215.3 L275.7,219.5 L269.5,220.8 L266.8,222.9 L261.3,222.2 L257.2,219.5Z" fill="#f0dab4"/><path d="M264.1,189.3 L268.2,189.3 L268.2,192.7 L264.1,192.7Z" fill="#f0dab4"/><path d="M267.5,200.3 L270.2,200.3 L270.2,203.7 L267.5,203.7Z" fill="#b4f7a6"/><path d="M226.3,168.7 L230.5,168.7 L230.5,173.5 L226.3,173.5Z" fill="#f0dab4"/><path d="M223.6,166.0 L225.9,166.0 L225.9,167.3 L223.6,167.3Z" fill="#7aef74"/><path d="M229.1,179.7 L230.9,179.7 L230.9,182.4 L229.1,182.4Z" fill="#7aef74"/><path d="M240.5,178.0 L242.8,178.0 L242.8,179.4 L240.5,179.4Z" fill="#7aef74"/><path d="M267.5,210.5 L270.2,210.5 L270.2,212.6 L267.5,212.6Z" fill="#7aef74"/><path d="M64.7,157.4 L70.8,157.4 L70.8,165.8 L64.7,165.8Z" fill="#7aef74"/><path d="M66.2,158.9 L69.3,158.9 L69.3,164.3 L66.2,164.3Z" fill="#b4f0f8"/><path d="M73.9,158.1 L81.6,158.1 L81.6,161.2 L73.9,161.2Z" fill="#7aef74"/><path d="M86.2,161.2 L90.8,161.2 L90.8,165.8 L86.2,165.8Z" fill="#b4f0f8"/><path d="M90.8,162.8 L100.1,162.8 L100.1,168.9 L90.8,168.9Z" fill="#3c96f0"/><path d="M93.2,165.1 L97.8,165.1 L97.8,168.2 L93.2,168.2Z" fill="#1e6ee6"/><path d="M95.5,178.9 L100.9,178.9 L100.9,182.8 L95.5,182.8Z" fill="#b4f7a6"/><path d="M100.1,179.7 L105.5,179.7 L105.5,182.8 L100.1,182.8Z" fill="#b4f0f8"/><path d="M62.3,173.6 L65.4,173.6 L65.4,176.6 L62.3,176.6Z" fill="#7aef74"/><path d="M68.5,174.3 L71.6,174.3 L71.6,176.6 L68.5,176.6Z" fill="#7aef74"/><path d="M110.1,176.6 L114.7,176.6 L114.7,178.9 L110.1,178.9Z" fill="#7aef74"/><path d="M126.3,182.8 L130.1,182.8 L130.1,185.9 L126.3,185.9Z" fill="#7aef74"/><path d="M107.8,195.1 L112.4,195.1 L112.4,198.2 L107.8,198.2Z" fill="#7aef74"/><path d="M120.1,168.2 L123.2,168.2 L123.2,170.5 L120.1,170.5Z" fill="#f0dab4"/><path d="M81.6,115.0 L90.8,115.0 L90.8,118.1 L81.6,118.1Z" fill="#7aef74"/><path d="M83.9,115.8 L88.5,115.8 L88.5,117.8 L83.9,117.8Z" fill="#b4f0f8"/><path d="M94.9,38.8 L99.7,38.8 L99.7,43.1 L94.9,43.1Z" fill="#78b4f8"/><path d="M96.4,39.9 L98.2,39.9 L98.2,41.6 L96.4,41.6Z" fill="#ff3200"/>
<g transform="translate(0,0)">
<use href="#map"/><g font-size="12" fill="#000"><text x="139" y="21">Kazakhstan</text><text x="19.0" y="43">Uzbekistan</text><text x="166.1" y="47">Kyrgyzstan</text><text x="218.9" y="82">China</text><text x="45.6" y="143">Afghanistan</text><text x="103.4" y="198">Pakistan</text><text x="193.9" y="230">India</text></g>
</g></g>
<rect x="0.5" y="0.5" width="278" height="278" fill="none" stroke="#000" stroke-width="1"/>
</g>
<text x="9.5" y="21" font-size="14" font-weight="bold" fill="#000" textLength="242.3" lengthAdjust="spacingAndGlyphs">Daily Rainfall estimate for 22 Jan., 2008</text>
<g transform="translate(298,25)">
<g clip-path="url(#c1)">
<path d="M156.3,23.7 L171.4,21.6 L192.9,22.7 L203.7,25.9 L221.0,18.3 L236.1,16.2 L251.2,17.3 L259.8,21.6 L259.8,34.5 L251.2,43.1 L242.5,49.6 L225.3,56.1 L210.2,60.4 L203.7,64.7 L190.8,71.2 L182.1,73.3 L177.8,64.7 L164.9,64.7 L151.9,60.4 L143.3,51.8 L143.3,43.1 L147.6,34.5Z" fill="#f0dab4"/><path d="M201.6,43.1 L210.2,43.1 L210.2,53.9 L201.6,53.9Z" fill="#7aef74"/><path d="M229.6,19.4 L240.4,19.4 L240.4,23.7 L229.6,23.7Z" fill="#7aef74"/><path d="M242.5,38.8 L251.2,38.8 L251.2,43.1 L242.5,43.1Z" fill="#7aef74"/><path d="M219.0,16.2 L232.9,15.7 L246.7,16.2 L254.1,16.6 L255.1,60.0 L219.0,60.0Z" fill="#f0dab4"/><path d="M234.7,37.0 L246.7,32.8 L254.1,34.2 L256.9,37.0 L254.1,40.2 L246.7,41.6 L237.5,44.4 L233.8,42.5Z" fill="#ffffff"/><path d="M235.6,16.6 L249.5,17.6 L250.4,27.7 L243.0,30.5 L235.6,27.7Z" fill="#b4f7a6"/><path d="M240.3,18.5 L245.8,18.5 L245.8,25.9 L240.3,25.9Z" fill="#7aef74"/><path d="M252.3,15.7 L260.6,13.9 L267.1,17.6 L274.5,18.5 L278.2,21.3 L278.2,28.7 L270.8,30.5 L263.4,31.4 L256.0,30.5 L253.2,26.8Z" fill="#78b4f8"/><path d="M254.1,17.6 L261.5,16.6 L268.9,19.4 L274.5,21.3 L276.3,27.7 L268.9,29.6 L259.7,29.6 L255.1,27.7Z" fill="#3c96f0"/><path d="M254.1,19.4 L262.5,18.5 L267.1,21.3 L268.9,26.8 L262.5,29.6 L256.0,27.7Z" fill="#ffe27a"/><path d="M255.1,21.3 L261.5,19.9 L263.4,25.9 L257.8,27.7 L255.1,25.9Z" fill="#ff3200"/><path d="M263.4,25.9 L268.9,25.9 L268.9,29.1 L263.4,29.1Z" fill="#ffa000"/><path d="M270.8,23.1 L276.3,23.1 L276.3,26.8 L270.8,26.8Z" fill="#b4f0f8"/><path d="M170.0,51.8 L200.2,50.1 L215.3,48.4 L225.4,45.1 L240.5,38.4 L250.6,35.0 L264.1,35.0 L254.0,45.1 L240.5,58.5 L230.5,63.6 L220.4,71.9 L213.7,85.4 L225.4,88.7 L237.2,92.1 L247.3,95.5 L260.7,98.8 L270.8,93.8 L279.0,90.4 L279.0,144.0 L170.0,144.0Z" fill="#f0dab4"/><path d="M170.0,35.0 L264.1,35.0 L257.3,38.4 L240.5,38.4 L225.4,41.7 L170.0,45.1Z" fill="#ffffff"/><path d="M200.2,50.1 L215.3,48.4 L220.4,53.5 L217.0,61.9 L212.0,75.3 L203.6,75.3 L201.9,63.6Z" fill="#b4f7a6"/><path d="M205.3,58.5 L213.7,58.5 L213.7,71.9 L205.3,71.9Z" fill="#7aef74"/><path d="M213.7,95.5 L227.1,92.1 L233.8,93.8 L240.5,102.2 L240.5,113.9 L233.8,122.3 L223.7,124.0 L215.3,119.0 L212.0,108.9Z" fill="#7aef74"/><path d="M260.7,102.2 L270.8,98.8 L279.0,97.1 L279.0,144.0 L250.6,144.0 L248.9,135.8 L254.0,125.7 L257.3,113.9Z" fill="#7aef74"/><path d="M240.5,105.5 L257.3,107.2 L254.0,125.7 L243.9,129.1 L240.5,119.0Z" fill="#b4f7a6"/><path d="M183.4,115.6 L203.6,113.9 L206.9,129.1 L195.2,134.1 L183.4,130.7Z" fill="#ffffff"/><path d="M170.0,125.0 L210.3,125.0 L208.6,128.4 L196.9,136.8 L200.2,143.5 L206.9,148.5 L217.0,151.9 L223.7,158.6 L230.5,161.9 L237.2,168.7 L243.9,173.7 L250.6,177.1 L257.3,182.1 L264.1,185.5 L270.8,188.8 L279.0,192.2 L279.0,125.0Z" fill="#f0dab4"/><path d="M243.9,125.0 L279.0,125.0 L279.0,158.6 L264.1,156.9 L254.0,155.2 L247.3,150.2 L243.9,141.8Z" fill="#7aef74"/><path d="M218.7,125.0 L240.5,125.0 L240.5,145.2 L218.7,145.2Z" fill="#b4f7a6"/><path d="M245.6,158.6 L264.1,158.6 L264.1,173.7 L245.6,173.7Z" fill="#ffffff"/><path d="M206.9,130.0 L220.4,130.0 L220.4,135.1 L206.9,135.1Z" fill="#ffffff"/><path d="M264.1,212.3 L279.0,212.3 L279.0,234.0 L264.1,234.0Z" fill="#f0dab4"/><path d="M270.8,215.7 L279.0,215.7 L279.0,229.1 L270.8,229.1Z" fill="#b4f7a6"/><path d="M207.8,198.1 L219.5,198.1 L219.5,208.1 L207.8,208.1Z" fill="#b4f0f8"/><path d="M210.3,199.7 L218.7,199.7 L218.7,206.5 L210.3,206.5Z" fill="#78b4f8"/><path d="M212.8,200.6 L218.7,200.6 L218.7,204.8 L212.8,204.8Z" fill="#3c96f0"/><path d="M193.5,209.8 L201.1,209.8 L201.1,214.0 L193.5,214.0Z" fill="#b4f7a6"/><path d="M226.3,224.1 L231.3,224.1 L231.3,232.5 L226.3,232.5Z" fill="#b4f0f8"/><path d="M1.1,1.1 L16.2,1.1 L16.2,16.2 L4.3,16.2 L1.1,10.8Z" fill="#78b4f8"/><path d="M1.1,2.2 L12.9,2.2 L12.9,10.8 L1.1,10.8Z" fill="#3c96f0"/><path d="M6.5,12.9 L17.3,12.9 L17.3,16.2 L6.5,16.2Z" fill="#7aef74"/><path d="M91.7,38.8 L99.2,38.8 L99.2,43.1 L91.7,43.1Z" fill="#78b4f8"/><path d="M1.1,74.4 L10.8,74.4 L10.8,89.5 L1.1,89.5Z" fill="#f0dab4"/><path d="M6.5,85.2 L10.8,85.2 L10.8,88.4 L6.5,88.4Z" fill="#7aef74"/><path d="M1.1,117.6 L8.6,117.6 L19.4,127.3 L23.7,140.0 L1.1,140.0Z" fill="#78b4f8"/><path d="M4.3,127.3 L19.4,127.3 L19.4,140.0 L4.3,140.0Z" fill="#3c96f0"/><path d="M12.9,129.4 L23.7,129.4 L23.7,138.1 L12.9,138.1Z" fill="#7aef74"/><path d="M10.8,133.7 L17.3,133.7 L17.3,140.0 L10.8,140.0Z" fill="#1e6ee6"/><path d="M66.9,99.2 L94.9,99.2 L94.9,118.6 L66.9,118.6Z" fill="#b4f7a6"/><path d="M69.0,107.9 L75.5,107.9 L75.5,116.5 L69.0,116.5Z" fill="#7aef74"/><path d="M77.7,101.4 L86.3,101.4 L86.3,107.9 L77.7,107.9Z" fill="#78b4f8"/><path d="M79.8,112.2 L86.3,112.2 L86.3,118.6 L79.8,118.6Z" fill="#3c96f0"/><path d="M82.0,105.7 L92.8,105.7 L92.8,112.2 L82.0,112.2Z" fill="#b4f0f8"/><path d="M105.7,84.1 L133.7,84.1 L133.7,107.9 L105.7,107.9Z" fill="#b4f7a6"/><path d="M106.8,93.8 L114.3,93.8 L114.3,99.2 L106.8,99.2Z" fill="#3c96f0"/><path d="M120.8,85.2 L133.7,85.2 L133.7,90.6 L120.8,90.6Z" fill="#78b4f8"/><path d="M116.5,90.6 L127.3,90.6 L127.3,96.0 L116.5,96.0Z" fill="#b4f0f8"/><path d="M114.3,90.6 L120.8,90.6 L120.8,94.9 L114.3,94.9Z" fill="#7aef74"/><path d="M110.0,100.3 L125.1,100.3 L125.1,106.8 L110.0,106.8Z" fill="#ffe27a"/><path d="M111.1,101.8 L124.0,101.8 L124.0,106.1 L111.1,106.1Z" fill="#ffa000"/><path d="M113.3,103.5 L123.0,103.5 L123.0,105.7 L113.3,105.7Z" fill="#ff3200"/><path d="M135.9,12.9 L140.0,12.9 L140.0,21.6 L135.9,21.6Z" fill="#f0dab4"/><path d="M49.6,104.6 L56.1,104.6 L56.1,106.8 L49.6,106.8Z" fill="#f0dab4"/><path d="M25.9,139.0 L47.5,139.0 L47.5,169.2 L25.9,169.2Z" fill="#b4f7a6"/><path d="M28.0,147.6 L47.5,147.6 L47.5,169.2 L28.0,169.2Z" fill="#7aef74"/><path d="M28.0,139.0 L43.1,139.0 L43.1,149.8 L28.0,149.8Z" fill="#3c96f0"/><path d="M32.4,144.4 L36.7,144.4 L36.7,148.7 L32.4,148.7Z" fill="#ffe27a"/><path d="M32.4,151.9 L45.3,151.9 L45.3,162.7 L32.4,162.7Z" fill="#b4f0f8"/><path d="M19.4,188.6 L32.4,188.6 L32.4,208.0 L19.4,208.0Z" fill="#f0dab4"/><path d="M28.0,171.4 L36.7,171.4 L36.7,182.1 L28.0,182.1Z" fill="#b4f7a6"/><path d="M0.0,139.0 L4.3,139.0 L4.3,167.0 L0.0,167.0Z" fill="#7aef74"/><path d="M64.7,157.3 L71.2,157.3 L71.2,167.0 L64.7,167.0Z" fill="#78b4f8"/><path d="M75.5,157.3 L82.0,157.3 L82.0,161.7 L75.5,161.7Z" fill="#7aef74"/><path d="M86.3,160.6 L94.9,160.6 L94.9,166.0 L86.3,166.0Z" fill="#78b4f8"/><path d="M71.2,175.7 L77.7,175.7 L77.7,180.0 L71.2,180.0Z" fill="#7aef74"/><path d="M94.9,175.7 L103.5,175.7 L103.5,180.0 L94.9,180.0Z" fill="#7aef74"/><path d="M56.1,166.0 L60.4,166.0 L60.4,168.1 L56.1,168.1Z" fill="#f0dab4"/><path d="M62.6,173.5 L65.8,173.5 L65.8,175.7 L62.6,175.7Z" fill="#f0dab4"/><path d="M114.3,212.3 L125.1,212.3 L125.1,216.7 L114.3,216.7Z" fill="#7aef74"/><path d="M119.7,215.6 L125.1,215.6 L125.1,222.1 L119.7,222.1Z" fill="#78b4f8"/><path d="M116.5,222.1 L123.0,222.1 L123.0,231.8 L116.5,231.8Z" fill="#7aef74"/><path d="M0.0,251.2 L12.9,249.0 L25.9,251.2 L51.8,249.0 L51.8,268.4 L43.1,279.0 L0.0,279.0Z" fill="#f0dab4"/><path d="M1.1,242.5 L9.7,242.5 L9.7,253.3 L1.1,253.3Z" fill="#3c96f0"/><path d="M1.1,246.9 L10.8,246.9 L10.8,268.4 L1.1,268.4Z" fill="#7aef74"/><path d="M15.1,265.2 L25.9,265.2 L25.9,274.9 L15.1,274.9Z" fill="#b4f0f8"/><path d="M21.6,249.0 L30.2,249.0 L30.2,255.5 L21.6,255.5Z" fill="#b4f7a6"/><path d="M43.1,251.2 L51.8,251.2 L51.8,259.8 L43.1,259.8Z" fill="#b4f7a6"/><path d="M147.6,201.6 L155.2,201.6 L155.2,211.3 L147.6,211.3Z" fill="#7aef74"/><path d="M158.4,143.3 L162.7,143.3 L162.7,160.6 L158.4,160.6Z" fill="#7aef74"/><path d="M164.9,208.0 L169.2,208.0 L169.2,213.4 L164.9,213.4Z" fill="#b4f7a6"/><path d="M154.1,226.4 L158.4,226.4 L158.4,230.7 L154.1,230.7Z" fill="#f0dab4"/><path d="M149.8,160.6 L154.1,160.6 L154.1,163.8 L149.8,163.8Z" fill="#f0dab4"/><path d="M169.2,238.2 L180.0,238.2 L180.0,246.9 L169.2,246.9Z" fill="#7aef74"/>
<g transform="translate(0,0)">
<use href="#map"/><g font-size="12" fill="#000"><text x="139" y="21">Kazakhstan</text><text x="19.0" y="43">Uzbekistan</text><text x="166.1" y="47">Kyrgyzstan</text><text x="218.9" y="82">China</text><text x="45.6" y="143">Afghanistan</text><text x="103.4" y="198">Pakistan</text><text x="193.9" y="230">India</text></g>
</g></g>
<rect x="0.5" y="0.5" width="278" height="278" fill="none" stroke="#000" stroke-width="1"/>
</g>
<text x="297.5" y="21" font-size="14" font-weight="bold" fill="#000" textLength="242.3" lengthAdjust="spacingAndGlyphs">Daily Rainfall estimate for 23 Jan., 2008</text>
<g transform="translate(586,25)">
<g clip-path="url(#c2)">
<path d="M1.1,1.1 L21.6,1.1 L20.5,8.6 L16.2,16.2 L1.1,16.2Z" fill="#78b4f8"/><path d="M1.1,3.2 L16.2,3.2 L16.2,15.1 L1.1,15.1Z" fill="#3c96f0"/><path d="M2.2,4.7 L9.1,4.7 L9.1,12.9 L2.2,12.9Z" fill="#ffa000"/><path d="M4.3,6.5 L7.6,6.5 L7.6,10.8 L4.3,10.8Z" fill="#ffe27a"/><path d="M9.7,1.1 L16.2,1.1 L16.2,4.7 L9.7,4.7Z" fill="#ff3200"/><path d="M4.3,75.5 L14.0,75.5 L14.0,82.0 L4.3,82.0Z" fill="#7aef74"/><path d="M8.6,79.8 L15.1,79.8 L15.1,84.1 L8.6,84.1Z" fill="#f0dab4"/><path d="M18.3,74.4 L32.4,74.4 L32.4,80.9 L18.3,80.9Z" fill="#f0dab4"/><path d="M21.6,75.5 L28.0,75.5 L28.0,78.7 L21.6,78.7Z" fill="#7aef74"/><path d="M45.3,102.5 L64.7,102.5 L64.7,112.2 L45.3,112.2Z" fill="#f0dab4"/><path d="M49.6,120.8 L62.6,120.8 L62.6,129.4 L49.6,129.4Z" fill="#f0dab4"/><path d="M10.8,112.2 L21.6,112.2 L21.6,117.6 L10.8,117.6Z" fill="#f0dab4"/><path d="M69.0,99.2 L92.8,99.2 L92.8,118.6 L69.0,118.6Z" fill="#78b4f8"/><path d="M69.0,105.7 L77.7,105.7 L77.7,114.3 L69.0,114.3Z" fill="#7aef74"/><path d="M75.5,103.5 L82.0,103.5 L82.0,110.0 L75.5,110.0Z" fill="#b4f0f8"/><path d="M82.0,101.4 L86.3,101.4 L86.3,116.5 L82.0,116.5Z" fill="#3c96f0"/><path d="M83.1,112.2 L87.4,112.2 L87.4,117.6 L83.1,117.6Z" fill="#ffa000"/><path d="M87.4,106.8 L91.0,106.8 L91.0,110.4 L87.4,110.4Z" fill="#ff3200"/><path d="M107.9,94.9 L129.4,94.9 L129.4,101.4 L107.9,101.4Z" fill="#78b4f8"/><path d="M127.3,85.2 L133.7,85.2 L133.7,92.8 L127.3,92.8Z" fill="#3c96f0"/><path d="M120.8,90.6 L129.4,90.6 L129.4,96.0 L120.8,96.0Z" fill="#b4f0f8"/><path d="M108.9,98.2 L129.4,98.2 L129.4,106.8 L108.9,106.8Z" fill="#ffe27a"/><path d="M110.0,99.7 L129.0,99.7 L129.0,106.1 L110.0,106.1Z" fill="#ffa000"/><path d="M114.3,101.4 L124.0,101.4 L124.0,105.7 L114.3,105.7Z" fill="#ff3200"/><path d="M10.8,129.4 L19.4,129.4 L19.4,140.0 L10.8,140.0Z" fill="#3c96f0"/><path d="M17.3,127.3 L23.7,127.3 L23.7,133.7 L17.3,133.7Z" fill="#7aef74"/><path d="M138.1,11.9 L140.0,11.9 L140.0,20.5 L138.1,20.5Z" fill="#f0dab4"/><path d="M242.5,19.4 L255.5,17.3 L264.1,21.6 L266.3,32.4 L259.8,43.1 L251.2,49.6 L242.5,51.8 L236.1,47.5 L240.4,36.7 L238.2,25.9Z" fill="#f0dab4"/><path d="M249.0,24.8 L255.5,24.8 L255.5,29.1 L249.0,29.1Z" fill="#7aef74"/><path d="M251.2,69.0 L264.1,64.7 L279.0,62.6 L279.0,140.0 L259.8,140.0 L251.2,129.4 L242.5,120.8 L229.6,116.5 L214.5,114.3 L203.7,107.9 L195.1,101.4 L192.9,90.6 L197.2,86.3 L208.0,88.4 L221.0,92.8 L233.9,90.6 L246.9,86.3 L253.3,77.7Z" fill="#f0dab4"/><path d="M259.8,82.0 L277.1,82.0 L277.1,92.8 L259.8,92.8Z" fill="#ffffff"/><path d="M233.9,99.2 L246.9,99.2 L246.9,107.9 L233.9,107.9Z" fill="#ffffff"/><path d="M264.1,101.4 L277.1,101.4 L277.1,110.0 L264.1,110.0Z" fill="#ffffff"/><path d="M195.1,77.7 L203.7,77.7 L203.7,86.3 L195.1,86.3Z" fill="#f0dab4"/><path d="M259.8,63.6 L274.9,63.6 L274.9,71.2 L259.8,71.2Z" fill="#7aef74"/><path d="M264.1,112.2 L274.9,112.2 L274.9,125.1 L264.1,125.1Z" fill="#b4f7a6"/><path d="M268.4,30.2 L279.0,30.2 L279.0,43.1 L268.4,43.1Z" fill="#f0dab4"/><path d="M53.9,210.2 L66.9,210.2 L66.9,225.3 L53.9,225.3Z" fill="#f0dab4"/><path d="M69.0,208.0 L77.7,208.0 L77.7,216.7 L69.0,216.7Z" fill="#7aef74"/><path d="M75.5,205.9 L86.3,205.9 L86.3,212.3 L75.5,212.3Z" fill="#b4f0f8"/><path d="M64.7,212.3 L71.2,212.3 L71.2,218.8 L64.7,218.8Z" fill="#b4f7a6"/><path d="M82.0,192.9 L97.1,192.9 L97.1,201.6 L82.0,201.6Z" fill="#f0dab4"/><path d="M88.4,195.1 L94.9,195.1 L94.9,200.5 L88.4,200.5Z" fill="#b4f0f8"/><path d="M8.6,251.2 L25.9,249.0 L43.1,251.2 L64.7,249.0 L94.9,251.2 L92.8,268.4 L64.7,268.4 L43.1,266.3 L21.6,270.6 L8.6,268.4Z" fill="#f0dab4"/><path d="M25.9,259.8 L36.7,259.8 L36.7,266.3 L25.9,266.3Z" fill="#ffffff"/><path d="M53.9,255.5 L64.7,255.5 L64.7,262.0 L53.9,262.0Z" fill="#ffffff"/><path d="M10.8,249.0 L23.7,249.0 L23.7,253.3 L10.8,253.3Z" fill="#7aef74"/><path d="M69.0,249.0 L77.7,249.0 L77.7,253.3 L69.0,253.3Z" fill="#7aef74"/><path d="M77.7,255.5 L90.6,255.5 L90.6,264.1 L77.7,264.1Z" fill="#b4f7a6"/><path d="M38.8,259.8 L49.6,259.8 L49.6,266.3 L38.8,266.3Z" fill="#b4f7a6"/><path d="M25.9,182.1 L41.0,182.1 L41.0,188.6 L25.9,188.6Z" fill="#7aef74"/><path d="M51.8,184.3 L64.7,184.3 L64.7,190.8 L51.8,190.8Z" fill="#f0dab4"/><path d="M25.9,145.5 L32.4,145.5 L32.4,149.8 L25.9,149.8Z" fill="#7aef74"/><path d="M56.1,178.9 L60.4,178.9 L60.4,182.1 L56.1,182.1Z" fill="#7aef74"/><path d="M64.7,158.4 L69.0,158.4 L69.0,162.7 L64.7,162.7Z" fill="#f0dab4"/><path d="M99.2,176.8 L103.5,176.8 L103.5,180.0 L99.2,180.0Z" fill="#f0dab4"/><path d="M139.0,208.0 L156.3,208.0 L156.3,225.3 L139.0,225.3Z" fill="#3c96f0"/><path d="M145.5,212.3 L156.3,212.3 L156.3,223.1 L145.5,223.1Z" fill="#78b4f8"/><path d="M147.6,214.5 L156.3,214.5 L156.3,221.0 L147.6,221.0Z" fill="#b4f0f8"/><path d="M139.0,218.8 L143.3,218.8 L143.3,223.1 L139.0,223.1Z" fill="#ffe27a"/><path d="M156.3,221.0 L164.9,221.0 L164.9,229.6 L156.3,229.6Z" fill="#7aef74"/><path d="M147.6,200.5 L158.4,200.5 L158.4,205.9 L147.6,205.9Z" fill="#f0dab4"/><path d="M149.8,201.6 L156.3,201.6 L156.3,204.8 L149.8,204.8Z" fill="#7aef74"/><path d="M156.3,167.0 L160.6,167.0 L160.6,171.4 L156.3,171.4Z" fill="#7aef74"/><path d="M203.7,188.6 L208.0,188.6 L208.0,192.9 L203.7,192.9Z" fill="#f0dab4"/><path d="M264.1,195.1 L274.9,195.1 L274.9,201.6 L264.1,201.6Z" fill="#f0dab4"/><path d="M267.4,197.2 L272.7,197.2 L272.7,200.5 L267.4,200.5Z" fill="#7aef74"/><path d="M229.6,219.9 L233.9,219.9 L233.9,222.1 L229.6,222.1Z" fill="#f0dab4"/><path d="M80.1,233.7 L98.4,233.7 L98.4,242.8 L80.1,242.8Z" fill="#f0dab4"/><path d="M83.2,224.5 L89.3,218.4 L94.3,215.3 L101.5,216.9 L103.5,221.4 L103.5,226.5 L109.6,227.0 L116.7,226.5 L126.9,225.5 L128.9,229.6 L124.9,234.7 L120.8,237.7 L114.7,240.8 L109.6,243.8 L104.5,242.8 L99.4,240.8 L94.3,236.7 L88.2,232.6 L83.2,229.6Z" fill="#b4f7a6"/><path d="M89.3,219.4 L94.3,216.4 L100.4,217.4 L102.5,221.4 L101.5,227.6 L104.5,229.6 L109.6,228.6 L116.7,228.6 L122.8,228.6 L126.9,227.6 L124.9,233.7 L120.8,236.7 L114.7,239.8 L109.6,242.8 L104.5,241.8 L99.4,239.8 L94.3,235.7 L89.3,231.6 L86.2,227.6 L87.2,222.5Z" fill="#78b4f8"/><path d="M92.3,219.4 L98.4,218.4 L100.4,223.5 L99.4,228.6 L102.5,233.7 L108.6,235.7 L114.7,233.7 L120.8,231.6 L123.8,232.6 L119.8,235.7 L112.7,239.8 L107.6,239.8 L101.5,237.7 L96.4,233.7 L93.3,228.6 L92.3,223.5Z" fill="#3c96f0"/><path d="M137.1,210.3 L145.2,209.2 L153.3,206.2 L159.5,211.3 L163.5,221.4 L161.5,226.5 L151.3,227.6 L139.1,228.6 L131.0,227.6 L127.9,222.5Z" fill="#b4f7a6"/><path d="M127.9,217.4 L135.0,215.3 L141.1,214.3 L147.2,212.3 L151.3,208.2 L154.4,211.3 L155.4,217.4 L153.3,223.5 L145.2,225.5 L137.1,227.6 L131.0,225.5 L127.9,221.4Z" fill="#78b4f8"/><path d="M131.0,215.3 L145.2,215.3 L145.2,225.5 L131.0,225.5Z" fill="#3c96f0"/><path d="M145.2,213.3 L154.4,213.3 L154.4,222.5 L145.2,222.5Z" fill="#b4f0f8"/><path d="M132.0,220.4 L141.1,220.4 L141.1,224.5 L132.0,224.5Z" fill="#ffe27a"/><path d="M132.0,223.0 L136.1,223.0 L136.1,225.5 L132.0,225.5Z" fill="#ffa000"/><path d="M139.1,208.2 L145.2,208.2 L145.2,212.3 L139.1,212.3Z" fill="#7aef74"/><path d="M157.4,222.5 L163.5,222.5 L163.5,225.5 L157.4,225.5Z" fill="#7aef74"/><path d="M75.0,206.2 L82.1,205.2 L87.2,207.2 L86.2,211.3 L80.1,212.3 L75.0,211.3Z" fill="#b4f0f8"/><path d="M112.7,201.1 L117.7,201.1 L117.7,204.2 L112.7,204.2Z" fill="#7aef74"/><path d="M130.0,199.1 L137.1,199.1 L137.1,204.2 L130.0,204.2Z" fill="#7aef74"/><path d="M91.3,197.0 L97.4,197.0 L97.4,204.2 L91.3,204.2Z" fill="#b4f0f8"/>
<g transform="translate(0,0)">
<use href="#map"/><g font-size="12" fill="#000"><text x="139" y="21">Kazakhstan</text><text x="19.0" y="43">Uzbekistan</text><text x="166.1" y="47">Kyrgyzstan</text><text x="218.9" y="82">China</text><text x="45.6" y="143">Afghanistan</text><text x="103.4" y="198">Pakistan</text><text x="193.9" y="230">India</text></g>
</g></g>
<rect x="0.5" y="0.5" width="278" height="278" fill="none" stroke="#000" stroke-width="1"/>
</g>
<text x="585.5" y="21" font-size="14" font-weight="bold" fill="#000" textLength="242.3" lengthAdjust="spacingAndGlyphs">Daily Rainfall estimate for 24 Jan., 2008</text>
<g transform="translate(10,332)">
<g clip-path="url(#c3)">
<path d="M7.1,0.9 L16.6,0.9 L16.6,3.1 L15.1,3.7 L15.1,8.0 L7.1,4.0Z" fill="#a01e1e"/><path d="M7.1,3.7 L15.1,8.0 L15.1,12.0 L7.1,12.0Z" fill="#ff3200"/><path d="M0.9,6.8 L7.1,6.8 L7.1,9.2 L0.9,9.2Z" fill="#ffe27a"/><path d="M0.9,9.2 L7.4,9.2 L7.4,12.3 L0.9,12.3Z" fill="#ffa000"/><path d="M16.9,0.9 L21.0,0.9 L21.0,2.8 L16.9,2.8Z" fill="#ffa000"/><path d="M16.9,2.8 L21.0,2.8 L21.0,3.7 L16.9,3.7Z" fill="#3c96f0"/><path d="M0.9,12.0 L3.7,12.0 L3.7,13.9 L0.9,13.9Z" fill="#3c96f0"/><path d="M3.7,12.0 L7.4,12.0 L7.4,13.9 L3.7,13.9Z" fill="#78b4f8"/><path d="M7.4,12.0 L15.1,12.0 L15.1,13.9 L7.4,13.9Z" fill="#78b4f8"/><path d="M0.9,0.9 L6.8,0.9 L6.8,5.5 L0.9,5.5Z" fill="#b4f0f8"/><path d="M0.9,5.5 L4.9,5.5 L4.9,6.5 L0.9,6.5Z" fill="#3c96f0"/><path d="M3.7,13.9 L6.2,13.9 L6.2,15.7 L3.7,15.7Z" fill="#ffa000"/><path d="M6.2,13.9 L8.0,13.9 L8.0,15.4 L6.2,15.4Z" fill="#78b4f8"/><path d="M1.1,43.1 L10.8,43.1 L10.8,52.9 L1.1,52.9Z" fill="#f0dab4"/><path d="M28.0,94.9 L43.1,91.7 L60.4,92.8 L66.9,99.2 L64.7,107.9 L53.9,111.1 L38.8,112.2 L30.2,107.9Z" fill="#f0dab4"/><path d="M0.0,94.9 L8.6,97.1 L12.9,107.9 L12.9,120.8 L4.3,120.8 L0.0,116.5Z" fill="#f0dab4"/><path d="M1.1,74.4 L36.7,74.4 L36.7,82.0 L1.1,82.0Z" fill="#b4f7a6"/><path d="M6.5,75.5 L15.1,75.5 L15.1,79.8 L6.5,79.8Z" fill="#7aef74"/><path d="M21.6,76.6 L34.5,76.6 L34.5,80.2 L21.6,80.2Z" fill="#7aef74"/><path d="M6.5,85.2 L16.2,85.2 L16.2,90.6 L6.5,90.6Z" fill="#7aef74"/><path d="M94.9,55.0 L112.2,55.0 L112.2,61.5 L94.9,61.5Z" fill="#b4f7a6"/><path d="M97.1,56.1 L103.5,56.1 L103.5,60.4 L97.1,60.4Z" fill="#7aef74"/><path d="M73.3,103.5 L92.8,103.5 L92.8,116.5 L73.3,116.5Z" fill="#b4f7a6"/><path d="M82.0,110.0 L90.6,110.0 L90.6,118.6 L82.0,118.6Z" fill="#78b4f8"/><path d="M71.2,101.4 L77.7,101.4 L77.7,112.2 L71.2,112.2Z" fill="#f0dab4"/><path d="M125.1,85.2 L133.7,85.2 L133.7,94.9 L125.1,94.9Z" fill="#3c96f0"/><path d="M127.3,92.8 L133.7,92.8 L133.7,97.1 L127.3,97.1Z" fill="#1e6ee6"/><path d="M116.5,88.4 L125.1,88.4 L125.1,94.9 L116.5,94.9Z" fill="#b4f0f8"/><path d="M108.9,94.9 L116.5,94.9 L116.5,99.2 L108.9,99.2Z" fill="#7aef74"/><path d="M108.9,99.2 L120.8,99.2 L120.8,105.7 L108.9,105.7Z" fill="#3c96f0"/><path d="M112.2,101.4 L117.6,101.4 L117.6,106.8 L112.2,106.8Z" fill="#ffe27a"/><path d="M116.5,101.4 L129.4,101.4 L129.4,105.7 L116.5,105.7Z" fill="#ff3200"/><path d="M127.3,99.2 L131.6,99.2 L131.6,103.5 L127.3,103.5Z" fill="#ffa000"/><path d="M49.6,120.8 L60.4,120.8 L60.4,129.4 L49.6,129.4Z" fill="#f0dab4"/><path d="M45.3,127.3 L51.8,127.3 L51.8,131.6 L45.3,131.6Z" fill="#f0dab4"/><path d="M170.0,29.6 L186.8,26.2 L203.6,28.7 L220.4,27.9 L243.9,29.6 L257.3,34.6 L264.1,26.2 L270.8,17.8 L279.0,16.1 L279.0,110.0 L170.0,110.0Z" fill="#f0dab4"/><path d="M210.3,68.2 L223.7,56.4 L237.2,49.7 L242.2,51.4 L230.5,61.5 L217.0,71.5Z" fill="#ffffff"/><path d="M206.9,88.3 L220.4,79.9 L233.8,74.9 L247.3,69.9 L257.3,68.2 L254.0,73.2 L240.5,78.3 L225.4,85.0 L212.0,91.7Z" fill="#ffffff"/><path d="M220.4,101.8 L237.2,95.1 L254.0,88.3 L270.8,83.3 L279.0,81.6 L279.0,86.7 L264.1,91.7 L243.9,98.4 L227.1,105.1Z" fill="#ffffff"/><path d="M195.2,51.4 L212.0,51.4 L220.4,48.0 L212.0,56.4 L200.2,58.1Z" fill="#ffffff"/><path d="M220.4,27.9 L243.9,29.2 L256.5,34.6 L250.6,41.3 L240.5,46.3 L228.8,49.7 L220.4,51.4 L223.7,39.6Z" fill="#ffffff"/><path d="M243.9,16.1 L270.8,16.1 L270.8,48.0 L243.9,48.0Z" fill="#b4f7a6"/><path d="M233.8,44.7 L247.3,41.3 L260.7,39.6 L270.8,34.6 L279.0,31.2 L279.0,71.5 L267.4,74.9 L254.0,78.3 L245.6,74.9 L242.2,64.8 L240.5,54.7Z" fill="#7aef74"/><path d="M170.0,58.1 L180.1,56.4 L193.5,59.8 L203.6,64.8 L203.6,76.6 L196.9,88.3 L186.8,88.3 L176.7,85.0 L170.0,81.6Z" fill="#7aef74"/><path d="M203.6,95.1 L220.4,90.0 L233.8,86.7 L243.9,88.3 L237.2,95.1 L220.4,101.8 L206.9,105.1Z" fill="#7aef74"/><path d="M254.0,95.1 L264.1,91.7 L279.0,88.3 L279.0,110.0 L260.7,110.0Z" fill="#7aef74"/><path d="M223.7,21.2 L230.5,21.2 L230.5,27.9 L223.7,27.9Z" fill="#7aef74"/><path d="M245.6,22.8 L250.6,22.8 L250.6,43.0 L245.6,43.0Z" fill="#7aef74"/><path d="M264.1,21.2 L274.1,21.2 L274.1,41.3 L264.1,41.3Z" fill="#7aef74"/><path d="M247.3,19.5 L264.1,19.5 L264.1,41.3 L247.3,41.3Z" fill="#b4f0f8"/><path d="M180.1,68.2 L195.2,68.2 L195.2,79.9 L180.1,79.9Z" fill="#b4f0f8"/><path d="M220.4,29.6 L228.8,29.6 L228.8,36.3 L220.4,36.3Z" fill="#b4f0f8"/><path d="M233.8,6.0 L254.0,6.0 L254.0,16.1 L233.8,16.1Z" fill="#78b4f8"/><path d="M238.9,10.2 L252.3,10.2 L252.3,15.3 L238.9,15.3Z" fill="#3c96f0"/><path d="M186.8,108.0 L279.0,108.0 L279.0,208.8 L264.1,208.8 L257.3,202.1 L254.0,188.6 L243.9,186.9 L233.8,181.9 L225.4,175.2 L220.4,165.1 L210.3,158.4 L205.3,151.7 L206.9,143.3 L220.4,138.2 L220.4,128.2 L203.6,118.1 L190.2,113.0Z" fill="#f0dab4"/><path d="M220.4,138.2 L240.5,138.2 L240.5,151.7 L220.4,151.7Z" fill="#ffffff"/><path d="M248.9,155.0 L264.1,155.0 L264.1,178.5 L248.9,178.5Z" fill="#ffffff"/><path d="M264.1,161.7 L279.0,161.7 L279.0,175.2 L264.1,175.2Z" fill="#ffffff"/><path d="M233.8,118.1 L264.1,118.1 L264.1,141.6 L233.8,141.6Z" fill="#b4f7a6"/><path d="M247.3,119.8 L260.7,119.8 L260.7,129.8 L247.3,129.8Z" fill="#ffffff"/><path d="M193.5,108.0 L213.7,108.0 L227.1,118.1 L230.5,128.2 L220.4,126.5 L206.9,118.1 L195.2,113.0Z" fill="#7aef74"/><path d="M223.7,163.4 L233.8,165.1 L243.9,173.5 L257.3,178.5 L254.0,181.9 L240.5,180.2 L228.8,175.2Z" fill="#7aef74"/><path d="M270.8,108.0 L279.0,108.0 L279.0,114.7 L270.8,114.7Z" fill="#7aef74"/><path d="M210.3,148.3 L223.7,148.3 L223.7,158.4 L210.3,158.4Z" fill="#b4f7a6"/><path d="M257.3,151.7 L279.0,151.7 L279.0,161.7 L257.3,161.7Z" fill="#b4f7a6"/><path d="M264.1,124.8 L279.0,124.8 L279.0,141.6 L264.1,141.6Z" fill="#b4f7a6"/><path d="M243.9,175.2 L247.3,175.2 L247.3,176.9 L243.9,176.9Z" fill="#b4f0f8"/><path d="M233.8,213.0 L242.2,213.0 L242.2,216.3 L233.8,216.3Z" fill="#7aef74"/><path d="M220.4,215.5 L227.1,215.5 L227.1,217.0 L220.4,217.0Z" fill="#f0dab4"/><path d="M79.8,190.8 L97.1,190.8 L97.1,204.8 L79.8,204.8Z" fill="#78b4f8"/><path d="M83.1,192.9 L94.9,192.9 L94.9,203.7 L83.1,203.7Z" fill="#3c96f0"/><path d="M84.1,197.2 L90.6,197.2 L90.6,201.6 L84.1,201.6Z" fill="#b4f0f8"/><path d="M43.1,187.5 L53.9,187.5 L53.9,191.9 L43.1,191.9Z" fill="#7aef74"/><path d="M52.9,187.5 L61.5,187.5 L61.5,194.0 L52.9,194.0Z" fill="#3c96f0"/><path d="M49.6,190.8 L56.1,190.8 L56.1,197.2 L49.6,197.2Z" fill="#b4f0f8"/><path d="M58.2,173.5 L82.0,173.5 L82.0,186.5 L58.2,186.5Z" fill="#78b4f8"/><path d="M62.6,175.7 L69.0,175.7 L69.0,180.0 L62.6,180.0Z" fill="#3c96f0"/><path d="M75.5,173.5 L80.9,173.5 L80.9,177.8 L75.5,177.8Z" fill="#3c96f0"/><path d="M90.6,160.6 L99.2,160.6 L99.2,171.4 L90.6,171.4Z" fill="#3c96f0"/><path d="M110.0,163.8 L123.0,163.8 L123.0,168.1 L110.0,168.1Z" fill="#3c96f0"/><path d="M125.1,170.3 L131.6,170.3 L131.6,174.6 L125.1,174.6Z" fill="#b4f0f8"/><path d="M1.1,159.5 L15.1,159.5 L15.1,164.9 L1.1,164.9Z" fill="#7aef74"/><path d="M58.2,148.7 L66.9,148.7 L66.9,153.0 L58.2,153.0Z" fill="#f0dab4"/><path d="M82.0,147.6 L88.4,147.6 L88.4,151.9 L82.0,151.9Z" fill="#7aef74"/><path d="M120.8,147.6 L127.3,147.6 L127.3,151.9 L120.8,151.9Z" fill="#7aef74"/><path d="M28.0,258.7 L32.4,258.7 L32.4,264.1 L28.0,264.1Z" fill="#b4f0f8"/><path d="M82.0,267.4 L99.2,267.4 L99.2,272.7 L82.0,272.7Z" fill="#b4f0f8"/><path d="M62.6,272.7 L92.8,272.7 L92.8,277.1 L62.6,277.1Z" fill="#b4f7a6"/><path d="M64.7,160.6 L69.0,160.6 L69.0,164.9 L64.7,164.9Z" fill="#f0dab4"/><path d="M125.1,176.8 L129.4,176.8 L129.4,180.0 L125.1,180.0Z" fill="#f0dab4"/><path d="M143.3,146.6 L147.6,146.6 L147.6,151.9 L143.3,151.9Z" fill="#7aef74"/><path d="M150.9,158.4 L158.4,158.4 L158.4,164.9 L150.9,164.9Z" fill="#b4f0f8"/><path d="M141.2,208.0 L149.8,208.0 L149.8,212.3 L141.2,212.3Z" fill="#7aef74"/><path d="M231.8,213.4 L242.5,213.4 L242.5,217.7 L231.8,217.7Z" fill="#7aef74"/><path d="M221.0,215.6 L227.4,215.6 L227.4,219.9 L221.0,219.9Z" fill="#f0dab4"/>
<g transform="translate(0,0)">
<use href="#map"/><g font-size="12" fill="#000"><text x="138" y="21">Kazakhstan</text><text x="19.0" y="44">Uzbekistan</text><text x="166.1" y="47">Kyrgyzstan</text><text x="218.9" y="82">China</text><text x="45.6" y="143">Afghanistan</text><text x="103.4" y="198">Pakistan</text><text x="193.9" y="230">India</text></g>
</g></g>
<rect x="0.5" y="0.5" width="278" height="279" fill="none" stroke="#000" stroke-width="1"/>
</g>
<text x="9.5" y="330" font-size="14" font-weight="bold" fill="#000" textLength="242.3" lengthAdjust="spacingAndGlyphs">Daily Rainfall estimate for 25 Jan., 2008</text>
<g transform="translate(298,332)">
<g clip-path="url(#c4)">
<path d="M1.1,1.1 L16.2,1.1 L16.2,10.8 L1.1,10.8Z" fill="#f0dab4"/><path d="M1.1,6.5 L10.8,6.5 L10.8,11.9 L1.1,11.9Z" fill="#7aef74"/><path d="M30.2,1.1 L43.1,1.1 L43.1,10.8 L30.2,10.8Z" fill="#f0dab4"/><path d="M37.8,14.0 L49.6,14.0 L49.6,34.5 L37.8,34.5Z" fill="#f0dab4"/><path d="M41.0,19.4 L46.4,19.4 L46.4,23.7 L41.0,23.7Z" fill="#b4f7a6"/><path d="M114.3,42.1 L121.9,42.1 L121.9,46.4 L114.3,46.4Z" fill="#b4f7a6"/><path d="M101.4,57.2 L105.7,57.2 L105.7,60.4 L101.4,60.4Z" fill="#f0dab4"/><path d="M82.0,101.4 L94.9,101.4 L94.9,114.3 L82.0,114.3Z" fill="#f0dab4"/><path d="M85.2,103.5 L90.6,103.5 L90.6,107.9 L85.2,107.9Z" fill="#b4f7a6"/><path d="M108.9,94.9 L133.7,94.9 L133.7,107.9 L108.9,107.9Z" fill="#b4f7a6"/><path d="M108.9,97.1 L129.4,97.1 L129.4,105.7 L108.9,105.7Z" fill="#7aef74"/><path d="M112.2,101.4 L125.1,101.4 L125.1,106.8 L112.2,106.8Z" fill="#b4f0f8"/><path d="M129.4,94.9 L140.0,94.9 L140.0,101.4 L129.4,101.4Z" fill="#7aef74"/><path d="M97.1,126.2 L101.4,126.2 L101.4,129.4 L97.1,129.4Z" fill="#3c96f0"/><path d="M103.5,129.4 L110.0,129.4 L110.0,135.9 L103.5,135.9Z" fill="#b4f0f8"/><path d="M233.8,1.0 L270.8,1.0 L279.0,14.4 L279.0,37.9 L264.1,37.9 L257.3,26.2 L250.6,17.8 L233.8,17.8Z" fill="#b4f7a6"/><path d="M237.2,11.1 L247.3,11.1 L247.3,16.1 L237.2,16.1Z" fill="#b4f0f8"/><path d="M254.0,17.8 L260.7,17.8 L260.7,26.2 L254.0,26.2Z" fill="#78b4f8"/><path d="M260.7,19.5 L279.0,19.5 L279.0,29.6 L260.7,29.6Z" fill="#b4f0f8"/><path d="M218.7,32.9 L227.1,32.9 L227.1,37.9 L218.7,37.9Z" fill="#b4f7a6"/><path d="M225.4,41.3 L232.1,41.3 L232.1,46.3 L225.4,46.3Z" fill="#b4f7a6"/><path d="M203.6,51.4 L213.7,51.4 L213.7,56.4 L203.6,56.4Z" fill="#b4f0f8"/><path d="M180.1,61.6 L203.6,56.6 L220.4,49.8 L237.2,44.8 L250.6,41.4 L260.7,38.1 L270.8,34.7 L279.0,33.0 L279.0,137.0 L213.7,137.0 L208.6,115.3 L200.2,106.9 L191.8,100.2 L183.4,95.2 L181.8,78.4Z" fill="#f0dab4"/><path d="M196.9,71.7 L213.7,63.3 L230.5,58.2 L242.2,54.9 L243.9,64.9 L240.5,78.4 L233.8,88.5 L220.4,91.8 L206.9,88.5 L195.2,83.4Z" fill="#ffffff"/><path d="M200.2,51.5 L220.4,49.8 L213.7,58.2 L200.2,61.6Z" fill="#ffffff"/><path d="M243.9,44.8 L257.3,43.1 L254.0,51.5 L243.9,51.5Z" fill="#ffffff"/><path d="M198.6,91.8 L213.7,90.1 L230.5,91.8 L240.5,88.5 L245.6,78.4 L248.9,61.6 L257.3,53.2 L267.4,46.5 L279.0,43.1 L279.0,95.2 L264.1,98.5 L247.3,101.9 L233.8,105.3 L220.4,101.9 L206.9,100.2 L196.9,98.5Z" fill="#7aef74"/><path d="M191.8,100.2 L210.3,98.5 L212.0,122.1 L208.6,135.5 L203.6,135.5 L200.2,115.3 L193.5,106.9Z" fill="#b4f7a6"/><path d="M195.2,101.9 L206.9,101.9 L206.9,115.3 L195.2,115.3Z" fill="#7aef74"/><path d="M212.0,103.6 L228.8,101.9 L245.6,100.2 L264.1,98.5 L279.0,96.9 L279.0,132.1 L264.1,135.5 L243.9,137.0 L230.5,132.1 L218.7,122.1 L210.3,112.0Z" fill="#b4f0f8"/><path d="M193.5,73.3 L203.6,73.3 L203.6,83.4 L193.5,83.4Z" fill="#b4f0f8"/><path d="M200.2,64.9 L217.0,64.9 L217.0,75.0 L200.2,75.0Z" fill="#b4f7a6"/><path d="M259.0,28.0 L279.0,28.0 L279.0,38.1 L259.0,38.1Z" fill="#b4f7a6"/><path d="M254.0,61.6 L260.7,61.6 L260.7,68.3 L254.0,68.3Z" fill="#ffffff"/><path d="M264.1,78.4 L270.8,78.4 L270.8,83.4 L264.1,83.4Z" fill="#ffffff"/><path d="M77.7,195.1 L97.1,195.1 L97.1,205.9 L77.7,205.9Z" fill="#b4f7a6"/><path d="M84.1,188.6 L94.9,188.6 L94.9,203.7 L84.1,203.7Z" fill="#7aef74"/><path d="M88.4,189.7 L92.8,189.7 L92.8,195.1 L88.4,195.1Z" fill="#b4f0f8"/><path d="M90.6,199.4 L97.1,199.4 L97.1,203.7 L90.6,203.7Z" fill="#f0dab4"/><path d="M64.7,215.6 L77.7,215.6 L77.7,224.2 L64.7,224.2Z" fill="#f0dab4"/><path d="M71.2,213.4 L88.4,213.4 L88.4,217.7 L71.2,217.7Z" fill="#b4f7a6"/><path d="M1.1,222.1 L23.7,222.1 L23.7,229.6 L1.1,229.6Z" fill="#f0dab4"/><path d="M1.1,225.3 L19.4,225.3 L19.4,229.2 L1.1,229.2Z" fill="#7aef74"/><path d="M64.7,159.5 L71.2,159.5 L71.2,164.9 L64.7,164.9Z" fill="#7aef74"/><path d="M60.4,173.5 L64.7,173.5 L64.7,175.7 L60.4,175.7Z" fill="#f0dab4"/><path d="M71.2,175.7 L77.7,175.7 L77.7,177.8 L71.2,177.8Z" fill="#f0dab4"/><path d="M71.2,181.1 L75.5,181.1 L75.5,185.4 L71.2,185.4Z" fill="#f0dab4"/><path d="M49.6,187.5 L60.4,187.5 L60.4,190.8 L49.6,190.8Z" fill="#f0dab4"/><path d="M1.1,245.8 L10.8,245.8 L10.8,249.0 L1.1,249.0Z" fill="#f0dab4"/><path d="M9.7,263.0 L16.2,263.0 L16.2,268.4 L9.7,268.4Z" fill="#f0dab4"/><path d="M180.1,104.8 L190.2,109.8 L200.2,116.6 L206.9,123.3 L212.0,131.7 L220.4,138.4 L230.5,141.7 L240.5,145.1 L250.6,146.8 L264.1,145.1 L279.0,143.4 L279.0,155.2 L264.1,156.9 L254.0,151.8 L243.9,150.1 L233.8,148.5 L223.7,146.8 L213.7,143.4 L206.9,138.4 L203.6,130.0 L195.2,121.6 L186.8,116.6 L180.1,111.5Z" fill="#f0dab4"/><path d="M191.8,88.0 L279.0,88.0 L279.0,143.4 L264.1,145.1 L250.6,146.8 L240.5,145.1 L230.5,141.7 L220.4,138.4 L212.0,131.7 L206.9,123.3 L200.2,116.6 L190.2,109.8 L183.4,104.8 L186.8,98.1 L191.8,94.7Z" fill="#7aef74"/><path d="M220.4,88.0 L254.0,88.0 L250.6,94.7 L233.8,98.1 L220.4,94.7Z" fill="#b4f7a6"/><path d="M212.0,101.4 L228.8,99.8 L243.9,103.1 L257.3,101.4 L270.8,98.1 L279.0,96.4 L279.0,123.3 L264.1,130.0 L254.0,136.7 L243.9,138.4 L237.2,136.7 L228.8,131.7 L218.7,123.3 L210.3,118.2 L206.9,111.5 L208.6,104.8Z" fill="#b4f0f8"/><path d="M243.9,121.6 L257.3,121.6 L257.3,131.7 L243.9,131.7Z" fill="#b4f7a6"/><path d="M264.1,131.7 L279.0,131.7 L279.0,141.7 L264.1,141.7Z" fill="#b4f7a6"/>
<g transform="translate(0,0)">
<use href="#map"/><g font-size="12" fill="#000"><text x="138" y="21">Kazakhstan</text><text x="19.0" y="44">Uzbekistan</text><text x="166.1" y="47">Kyrgyzstan</text><text x="218.9" y="82">China</text><text x="45.6" y="143">Afghanistan</text><text x="103.4" y="198">Pakistan</text><text x="193.9" y="230">India</text></g>
</g></g>
<rect x="0.5" y="0.5" width="278" height="279" fill="none" stroke="#000" stroke-width="1"/>
</g>
<text x="297.5" y="330" font-size="14" font-weight="bold" fill="#000" textLength="242.3" lengthAdjust="spacingAndGlyphs">Daily Rainfall estimate for 26 Jan., 2008</text>
<g transform="translate(586,332)">
<g clip-path="url(#c5)">
<path d="M41.0,2.2 L58.2,2.2 L58.2,10.8 L41.0,10.8Z" fill="#f0dab4"/><path d="M86.3,21.6 L103.5,17.3 L120.8,21.6 L129.4,30.2 L129.4,43.1 L120.8,56.1 L112.2,64.7 L101.4,69.0 L90.6,71.2 L82.0,71.2 L82.0,60.4 L90.6,49.6 L94.9,34.5Z" fill="#f0dab4" fill-opacity="0.7"/><path d="M0.0,49.6 L21.6,51.8 L43.1,60.4 L64.7,69.0 L82.0,71.2 L94.9,82.0 L107.9,92.8 L112.2,103.5 L103.5,107.9 L86.3,103.5 L71.2,94.9 L53.9,90.6 L43.1,99.2 L32.4,107.9 L21.6,107.9 L8.6,101.4 L0.0,94.9Z" fill="#f0dab4" fill-opacity="0.5"/><path d="M12.9,64.7 L43.1,64.7 L43.1,73.3 L12.9,73.3Z" fill="#ffffff"/><path d="M34.5,82.0 L56.1,82.0 L56.1,86.3 L34.5,86.3Z" fill="#ffffff"/><path d="M6.5,94.9 L23.7,94.9 L23.7,101.4 L6.5,101.4Z" fill="#ffffff"/><path d="M0.0,107.9 L25.9,107.9 L25.9,114.3 L0.0,114.3Z" fill="#f0dab4"/><path d="M71.2,97.1 L90.6,94.9 L107.9,99.2 L129.4,97.1 L140.0,99.2 L140.0,140.0 L71.2,140.0Z" fill="#f0dab4" fill-opacity="0.7"/><path d="M90.6,116.5 L101.4,116.5 L101.4,125.1 L90.6,125.1Z" fill="#ffffff"/><path d="M112.2,129.4 L123.0,129.4 L123.0,135.9 L112.2,135.9Z" fill="#ffffff"/><path d="M90.6,77.7 L110.0,77.7 L110.0,86.3 L90.6,86.3Z" fill="#7aef74"/><path d="M82.0,75.5 L94.9,75.5 L94.9,82.0 L82.0,82.0Z" fill="#b4f7a6"/><path d="M83.1,75.5 L90.6,75.5 L90.6,79.8 L83.1,79.8Z" fill="#b4f0f8"/><path d="M84.6,76.8 L88.9,76.8 L88.9,79.0 L84.6,79.0Z" fill="#3c96f0"/><path d="M125.1,64.7 L138.1,64.7 L138.1,71.2 L125.1,71.2Z" fill="#7aef74"/><path d="M107.9,71.2 L129.4,71.2 L129.4,77.7 L107.9,77.7Z" fill="#7aef74"/><path d="M0.0,84.1 L12.9,84.1 L12.9,92.8 L0.0,92.8Z" fill="#7aef74"/><path d="M1.1,76.6 L8.6,76.6 L8.6,80.9 L1.1,80.9Z" fill="#b4f0f8"/><path d="M8.6,69.0 L17.3,69.0 L17.3,73.3 L8.6,73.3Z" fill="#b4f7a6"/><path d="M25.9,61.5 L34.5,61.5 L34.5,64.7 L25.9,64.7Z" fill="#b4f7a6"/><path d="M0.0,112.2 L25.9,112.2 L25.9,129.4 L0.0,129.4Z" fill="#7aef74"/><path d="M0.0,116.5 L12.9,116.5 L12.9,125.1 L0.0,125.1Z" fill="#b4f0f8"/><path d="M0.0,127.3 L10.8,127.3 L10.8,140.0 L0.0,140.0Z" fill="#3c96f0"/><path d="M2.2,131.6 L6.5,131.6 L6.5,138.1 L2.2,138.1Z" fill="#1e6ee6"/><path d="M25.9,120.8 L53.9,120.8 L53.9,129.4 L25.9,129.4Z" fill="#7aef74"/><path d="M12.9,129.4 L25.9,129.4 L25.9,140.0 L12.9,140.0Z" fill="#b4f7a6"/><path d="M110.0,38.4 L121.9,38.4 L121.9,52.9 L110.0,52.9Z" fill="#3c96f0"/><path d="M110.7,39.3 L121.2,39.3 L121.2,52.2 L110.7,52.2Z" fill="#ffa000"/><path d="M111.7,39.9 L119.9,39.9 L119.9,50.7 L111.7,50.7Z" fill="#a01e1e"/><path d="M103.5,12.9 L116.5,12.9 L116.5,19.4 L103.5,19.4Z" fill="#f0dab4"/><path d="M107.9,1.1 L114.3,1.1 L114.3,6.5 L107.9,6.5Z" fill="#b4f7a6"/><path d="M231.8,2.2 L259.8,2.2 L259.8,15.1 L231.8,15.1Z" fill="#b4f7a6"/><path d="M233.9,1.1 L240.4,1.1 L240.4,6.5 L233.9,6.5Z" fill="#b4f0f8"/><path d="M255.5,1.1 L264.1,1.1 L264.1,5.4 L255.5,5.4Z" fill="#78b4f8"/><path d="M259.8,12.9 L279.0,12.9 L279.0,28.0 L259.8,28.0Z" fill="#7aef74"/><path d="M268.4,19.4 L277.1,19.4 L277.1,23.7 L268.4,23.7Z" fill="#b4f0f8"/><path d="M251.2,36.7 L264.1,32.4 L279.0,30.2 L279.0,97.1 L259.8,94.9 L242.5,92.8 L233.9,90.6 L233.9,84.1 L246.9,82.0 L255.5,75.5 L259.8,64.7 L251.2,56.1 L249.0,47.5Z" fill="#f0dab4"/><path d="M221.0,94.9 L279.0,97.1 L279.0,140.0 L221.0,140.0Z" fill="#f0dab4"/><path d="M225.3,120.8 L242.5,120.8 L242.5,133.7 L225.3,133.7Z" fill="#ffffff"/><path d="M259.8,129.4 L272.7,129.4 L272.7,138.1 L259.8,138.1Z" fill="#ffffff"/><path d="M223.1,105.7 L236.1,102.5 L251.2,103.5 L268.4,105.7 L279.0,107.9 L279.0,129.4 L268.4,125.1 L255.5,120.8 L242.5,116.5 L229.6,114.3 L223.1,110.0Z" fill="#7aef74"/><path d="M268.4,116.5 L277.1,116.5 L277.1,120.8 L268.4,120.8Z" fill="#b4f0f8"/><path d="M201.6,49.6 L214.5,49.6 L214.5,57.2 L201.6,57.2Z" fill="#78b4f8"/><path d="M203.7,50.7 L212.3,50.7 L212.3,56.1 L203.7,56.1Z" fill="#3c96f0"/><path d="M186.5,36.7 L203.7,36.7 L203.7,43.1 L186.5,43.1Z" fill="#f0dab4"/><path d="M210.2,38.8 L236.1,38.8 L236.1,47.5 L210.2,47.5Z" fill="#f0dab4"/><path d="M145.5,73.3 L164.9,73.3 L164.9,82.0 L145.5,82.0Z" fill="#7aef74"/><path d="M158.4,76.6 L164.9,76.6 L164.9,80.9 L158.4,80.9Z" fill="#b4f0f8"/><path d="M192.9,80.9 L203.7,80.9 L203.7,88.4 L192.9,88.4Z" fill="#b4f7a6"/><path d="M143.3,64.7 L158.4,64.7 L158.4,69.0 L143.3,69.0Z" fill="#b4f7a6"/><path d="M139.0,82.0 L151.9,84.1 L164.9,90.6 L177.8,94.9 L177.8,140.0 L139.0,140.0Z" fill="#f0dab4"/><path d="M151.9,103.5 L164.9,103.5 L164.9,112.2 L151.9,112.2Z" fill="#ffffff"/><path d="M182.1,105.7 L214.5,105.7 L214.5,120.8 L182.1,120.8Z" fill="#f0dab4"/><path d="M0.0,139.0 L21.6,139.0 L28.0,151.9 L32.4,171.4 L38.8,164.9 L51.8,162.7 L51.8,192.9 L43.1,192.9 L32.4,195.1 L28.0,203.7 L30.2,216.7 L25.9,229.6 L17.3,240.4 L0.0,242.5Z" fill="#f0dab4"/><path d="M0.0,139.0 L19.4,139.0 L19.4,177.8 L0.0,177.8Z" fill="#7aef74"/><path d="M0.0,177.8 L21.6,177.8 L21.6,190.8 L0.0,190.8Z" fill="#b4f7a6"/><path d="M4.3,197.2 L12.9,197.2 L12.9,212.3 L4.3,212.3Z" fill="#ffffff"/><path d="M0.0,149.8 L8.6,149.8 L8.6,156.3 L0.0,156.3Z" fill="#ffffff"/><path d="M12.9,221.0 L21.6,221.0 L21.6,229.6 L12.9,229.6Z" fill="#ffffff"/><path d="M41.0,147.6 L51.8,147.6 L51.8,160.6 L41.0,160.6Z" fill="#7aef74"/><path d="M64.7,158.4 L90.6,158.4 L90.6,175.7 L64.7,175.7Z" fill="#f0dab4"/><path d="M75.5,162.7 L82.0,162.7 L82.0,167.0 L75.5,167.0Z" fill="#b4f7a6"/><path d="M82.0,184.3 L94.9,184.3 L94.9,201.6 L82.0,201.6Z" fill="#7aef74"/><path d="M92.8,182.1 L101.4,182.1 L101.4,188.6 L92.8,188.6Z" fill="#f0dab4"/><path d="M53.9,203.7 L60.4,203.7 L60.4,208.0 L53.9,208.0Z" fill="#b4f7a6"/><path d="M62.6,209.1 L69.0,209.1 L69.0,213.4 L62.6,213.4Z" fill="#b4f7a6"/><path d="M56.1,229.6 L62.6,229.6 L62.6,232.8 L56.1,232.8Z" fill="#7aef74"/><path d="M116.5,197.2 L123.0,197.2 L123.0,201.6 L116.5,201.6Z" fill="#b4f0f8"/><path d="M79.8,203.7 L84.1,203.7 L84.1,208.0 L79.8,208.0Z" fill="#b4f7a6"/><path d="M0.0,246.9 L17.3,246.9 L17.3,259.8 L0.0,259.8Z" fill="#b4f0f8"/><path d="M4.3,249.0 L15.1,249.0 L15.1,257.6 L4.3,257.6Z" fill="#7aef74"/><path d="M157.3,186.5 L160.6,186.5 L160.6,190.8 L157.3,190.8Z" fill="#7aef74"/><path d="M224.2,191.9 L227.4,191.9 L227.4,195.1 L224.2,195.1Z" fill="#b4f7a6"/>
<g transform="translate(0,0)">
<use href="#map"/><g font-size="12" fill="#000"><text x="138" y="21">Kazakhstan</text><text x="19.0" y="44">Uzbekistan</text><text x="166.1" y="47">Kyrgyzstan</text><text x="218.9" y="82">China</text><text x="45.6" y="143">Afghanistan</text><text x="103.4" y="198">Pakistan</text><text x="193.9" y="230">India</text></g>
</g></g>
<rect x="0.5" y="0.5" width="278" height="279" fill="none" stroke="#000" stroke-width="1"/>
</g>
<text x="585.5" y="330" font-size="14" font-weight="bold" fill="#000" textLength="242.3" lengthAdjust="spacingAndGlyphs">Daily Rainfall estimate for 27 Jan., 2008</text>
<text x="874.3" y="39.6" font-size="15" font-weight="bold" letter-spacing="0.72" fill="#000">Rainfall</text>
<text x="874.3" y="58.7" font-size="15" font-weight="bold" letter-spacing="0.75" fill="#000">Estimate</text>
<text x="874.3" y="77.8" font-size="15" font-weight="bold" letter-spacing="0.95" fill="#000">(RFE)</text>
<text x="874.3" y="96.8" font-size="15"  letter-spacing="0.62" fill="#000">through</text>
<text x="874.3" y="115.9" font-size="15"  letter-spacing="0.8" fill="#000">Jan 27, 2008</text>
<text x="874.3" y="198.0" font-size="15"  letter-spacing="0.5" fill="#000">Daily</text>
<text x="874.3" y="217.1" font-size="15"  letter-spacing="0.85" fill="#000">Totals</text>
<text x="874.3" y="269.6" font-size="15"  letter-spacing="0.95" fill="#000">Data:</text>
<text x="874.3" y="288.7" font-size="15"  letter-spacing="1.25" fill="#000">NOAA-</text>
<text x="874.3" y="307.8" font-size="15"  letter-spacing="1.1" fill="#000">RFE2.0</text>
<text x="874.3" y="382.6" font-size="12.5" font-weight="bold" letter-spacing="0.7" fill="#000">RFE (mm)</text>
<rect x="874.5" y="391.5" width="23" height="11" fill="#ffffff" stroke="#6b6b6b" stroke-width="1"/>
<text x="902.2" y="401" font-size="11"  letter-spacing="0" fill="#000">0 - 0.1</text>
<rect x="874.5" y="408.5" width="23" height="12" fill="#f0dab4" stroke="#6b6b6b" stroke-width="1"/>
<text x="902.2" y="418" font-size="11"  letter-spacing="0" fill="#000">0.1 - 1</text>
<rect x="874.5" y="426.5" width="23" height="11" fill="#b4f7a6" stroke="#6b6b6b" stroke-width="1"/>
<text x="902.2" y="436" font-size="11"  letter-spacing="0" fill="#000">1 - 2</text>
<rect x="874.5" y="443.5" width="23" height="11" fill="#7aef74" stroke="#6b6b6b" stroke-width="1"/>
<text x="902.2" y="453" font-size="11"  letter-spacing="0" fill="#000">2 - 5</text>
<rect x="874.5" y="460.5" width="23" height="12" fill="#b4f0f8" stroke="#6b6b6b" stroke-width="1"/>
<text x="902.2" y="470" font-size="11"  letter-spacing="0" fill="#000">5 - 10</text>
<rect x="874.5" y="477.5" width="23" height="12" fill="#78b4f8" stroke="#6b6b6b" stroke-width="1"/>
<text x="902.2" y="487" font-size="11"  letter-spacing="0" fill="#000">10 - 15</text>
<rect x="874.5" y="494.5" width="23" height="12" fill="#3c96f0" stroke="#6b6b6b" stroke-width="1"/>
<text x="902.2" y="504" font-size="11"  letter-spacing="0" fill="#000">15 - 20</text>
<rect x="874.5" y="512.5" width="23" height="11" fill="#1e6ee6" stroke="#6b6b6b" stroke-width="1"/>
<text x="902.2" y="522" font-size="11"  letter-spacing="0" fill="#000">20 - 30</text>
<rect x="874.5" y="529.5" width="23" height="11" fill="#ffe27a" stroke="#6b6b6b" stroke-width="1"/>
<text x="902.2" y="539" font-size="11"  letter-spacing="0" fill="#000">30 - 40</text>
<rect x="874.5" y="546.5" width="23" height="12" fill="#ffa000" stroke="#6b6b6b" stroke-width="1"/>
<text x="902.2" y="556" font-size="11"  letter-spacing="0" fill="#000">40 - 50</text>
<rect x="874.5" y="564.5" width="23" height="11" fill="#ff3200" stroke="#6b6b6b" stroke-width="1"/>
<text x="902.2" y="574" font-size="11"  letter-spacing="0" fill="#000">50 - 75</text>
<rect x="874.5" y="581.5" width="23" height="11" fill="#a01e1e" stroke="#6b6b6b" stroke-width="1"/>
<text x="902.2" y="591" font-size="11"  letter-spacing="0" fill="#000">&gt; 75</text>
<rect x="874.5" y="598.5" width="23" height="12" fill="#a0a0a0" stroke="#6b6b6b" stroke-width="1"/>
<text x="902.2" y="608" font-size="11"  letter-spacing="0.35" fill="#000">No Data</text>
<text x="10.5" y="632.8" font-size="11"  letter-spacing="0.53" fill="#000">Map produced by USGS/EROS</text>
<g id="logos">
<!-- USGS -->
<rect x="615" y="621.3" width="13.8" height="14.3" fill="#00794a"/>
<path d="M615,626.3 Q621.9,628.6 628.8,624.4 M615,628.4 Q621.9,629.5 628.8,626.6 M615,624.3 Q621.9,630.5 628.8,630.6 M615,626.5 Q621.9,631.5 628.8,632.6" stroke="#fff" stroke-width="0.8" fill="none"/>
<text x="0" y="0" transform="translate(630.6,635.6) scale(0.72,1)" font-size="20" font-weight="bold" fill="#00794a" font-family="Liberation Sans, Arial, sans-serif">USGS</text>
<text x="615" y="640.8" font-size="4.8" font-style="italic" font-weight="bold" fill="#2e8a5e" font-family="Liberation Sans, Arial, sans-serif" textLength="55" lengthAdjust="spacingAndGlyphs">science for a changing world</text>
<!-- NOAA -->
<circle cx="686" cy="630.8" r="10.4" fill="#fff" stroke="#c9c0cc" stroke-width="0.9"/>
<circle cx="686" cy="630.8" r="9.2" fill="#1796f0"/>
<path d="M678.8,624.8 L693.2,624.8 Q691.5,630 686,633.5 Q680.5,630 678.8,624.8 Z" fill="#1a1a6e"/>
<path d="M677,627.5 Q683,634 686.2,633.6 Q690,632.5 694.8,627.5 Q691,635 686,635.4 Q681,635 677,627.5 Z" fill="#fff"/>
<path d="M677.5,624.3 Q686,620.5 694.5,624.3 L693.5,625.8 L678.5,625.8 Z" fill="#1a1a6e"/>
<!-- USAID seal -->
<circle cx="711.9" cy="630.7" r="10.6" fill="#fff" stroke="#3d5a9a" stroke-width="1.3" stroke-dasharray="1.6 0.7"/>
<circle cx="711.9" cy="630.7" r="8.2" fill="none" stroke="#c7d0e4" stroke-width="0.6"/>
<rect x="707" y="625.2" width="10" height="2.4" rx="0.6" fill="#1c2f6b"/>
<path d="M707.3,630.6 Q711.9,628.4 716.5,630.6 Q711.9,632.4 707.3,630.6Z" fill="#6b86b8"/>
<rect x="707" y="634" width="10" height="1.6" fill="#1c2f6b"/>
<path d="M707,635.6 L717,635.6 L717,636.6 Q711.9,639.4 707,636.6Z" fill="#c8102e"/>
<!-- USAID text -->
<text x="0" y="0" transform="translate(725.8,634.8) scale(1.11,1)" font-size="15" font-weight="bold" fill="#1c2f6b" font-family="Liberation Sans, Arial, sans-serif">US<tspan fill="#c8102e">AID</tspan></text>
<text x="0" y="0" transform="translate(725.8,640.3) scale(1.0,1)" font-size="3.7" font-weight="bold" fill="#1c2f6b" font-family="Liberation Sans, Arial, sans-serif" textLength="52.5" lengthAdjust="spacingAndGlyphs">FROM THE AMERICAN PEOPLE</text>
<!-- FEWS NET globe -->
<circle cx="793.6" cy="631.5" r="9.6" fill="#fff"/>
<path d="M784.1,632.8 A9.6,9.6 0 0 0 797.6,640.3" fill="none" stroke="#e8782a" stroke-width="1.3" stroke-dasharray="2.2 0.9"/>
<path d="M784.1,632.8 A9.6,9.6 0 0 1 790.2,622.5" fill="none" stroke="#e8782a" stroke-width="1.3" stroke-dasharray="2.2 0.9"/>
<path d="M790.2,622.5 A9.6,9.6 0 0 1 801.2,625.5" fill="none" stroke="#3c3c3c" stroke-width="1.1" stroke-dasharray="1.8 0.9"/>
<path d="M801.2,625.5 A9.6,9.6 0 0 1 797.6,640.3" fill="none" stroke="#8cc8c8" stroke-width="1" stroke-dasharray="1.8 0.9"/>
<path d="M787.5,628 Q789.5,624.8 793,625.6 Q792,628.4 790.5,629.5 Q791.5,632 792.5,634.6 Q791.4,637 789.6,636.8 Q789,633.5 787.6,632.6 Q786.6,630.4 787.5,628Z" fill="#1d6b50"/>
<path d="M795,626 Q798.5,625.4 800.2,628.4 Q800.6,631.5 798.4,633.4 Q797.4,636.8 795.6,637.4 Q795.2,634 794.4,632 Q793.6,629.6 795,626Z" fill="#1d6b50"/>
<!-- FEWS NET text -->
<text x="0" y="0" transform="translate(807.2,635.7) scale(0.88,1)" font-size="12" fill="#1f2622" font-family="Liberation Sans, Arial, sans-serif">FEWS NET</text>
</g>

</svg>

</body></html>
